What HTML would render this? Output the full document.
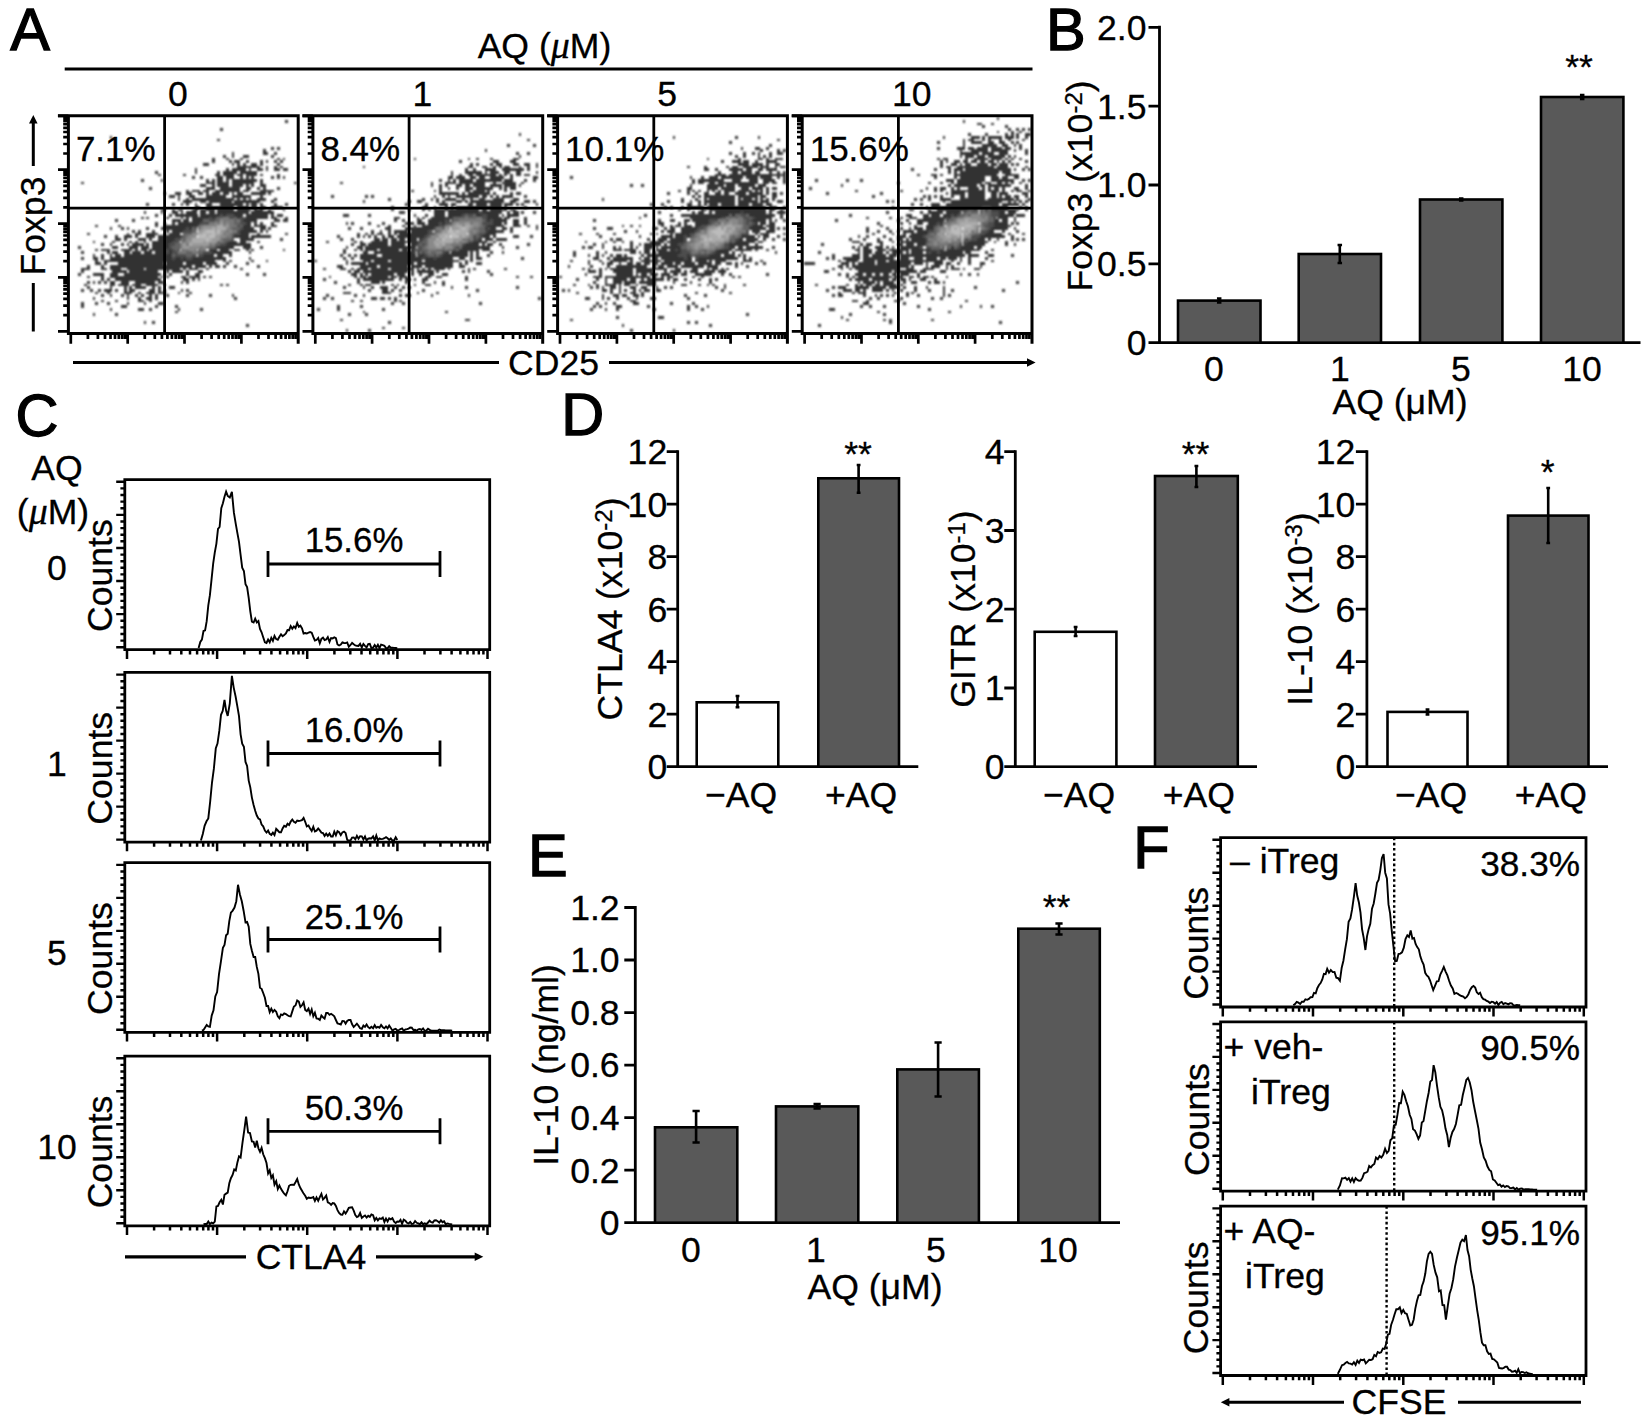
<!DOCTYPE html>
<html><head><meta charset="utf-8"><title>Figure</title>
<style>html,body{margin:0;padding:0;background:#fff}svg{display:block;font-family:"Liberation Sans", sans-serif}
.t{fill:#000;stroke:#000;stroke-width:.3px}
.L{fill:#000;stroke:#000;stroke-width:1.3px;font-size:59.5px;stroke-linejoin:miter}</style></head>
<body>
<svg width="1650" height="1424" viewBox="0 0 1650 1424">
<defs><radialGradient id="core"><stop offset="0" stop-color="#c6c6c6"/><stop offset="0.3" stop-color="#a4a4a4"/><stop offset="0.6" stop-color="#707070" stop-opacity="0.95"/><stop offset="0.85" stop-color="#4a4a4a" stop-opacity="0.7"/><stop offset="1" stop-color="#383838" stop-opacity="0"/></radialGradient><filter id="soft" x="-5%" y="-5%" width="110%" height="110%"><feGaussianBlur stdDeviation="0.9"/></filter></defs>
<rect width="1650" height="1424" fill="#fff"/>
<text class="L" x="10.3" y="50.3">A</text>
<text class="t" x="544.5" y="57.5" font-size="35.6" text-anchor="middle">AQ (<tspan font-family='"Liberation Serif", "DejaVu Serif", serif' font-style="italic" font-size="38">μ</tspan>M)</text>
<line x1="64.7" y1="69" x2="1032.5" y2="69" stroke="#000" stroke-width="3.2"/>
<g filter="url(#soft)" fill="none" shape-rendering="crispEdges" stroke-width="2.68">
<path d="M285.4 121.3h2.8M220.2 129.4h2.8M109.6 137.4h2.8M217.3 140.1h2.8M271.2 148.2h2.8M276.9 148.2h2.8M262.7 150.8h2.8M231.5 153.5h2.8M262.7 153.5h5.7M274.0 153.5h2.8M223.0 156.2h2.8M231.5 156.2h2.8M242.8 156.2h5.7M271.2 156.2h2.8M211.7 158.9h2.8M225.8 158.9h2.8M240.0 158.9h2.8M276.9 158.9h2.8M282.5 158.9h2.8M211.7 161.6h2.8M228.7 161.6h2.8M234.3 161.6h5.7M245.7 161.6h2.8M259.8 161.6h2.8M265.5 161.6h2.8M274.0 161.6h2.8M279.7 161.6h2.8M203.1 164.3h5.7M231.5 164.3h2.8M237.2 164.3h2.8M242.8 164.3h2.8M251.3 164.3h5.7M259.8 164.3h2.8M276.9 164.3h2.8M237.2 166.9h22.7M265.5 166.9h2.8M274.0 166.9h2.8M279.7 166.9h2.8M194.6 169.6h2.8M225.8 169.6h2.8M231.5 169.6h14.2M248.5 169.6h2.8M257.0 169.6h5.7M265.5 169.6h2.8M274.0 169.6h5.7M282.5 169.6h5.7M154.9 172.3h2.8M194.6 172.3h2.8M217.3 172.3h2.8M223.0 172.3h14.2M240.0 172.3h17.0M157.8 175.0h2.8M183.3 175.0h2.8M214.5 175.0h5.7M223.0 175.0h11.3M237.2 175.0h5.7M245.7 175.0h11.3M259.8 175.0h2.8M276.9 175.0h2.8M191.8 177.7h2.8M200.3 177.7h2.8M217.3 177.7h5.7M225.8 177.7h8.5M240.0 177.7h2.8M245.7 177.7h2.8M251.3 177.7h2.8M271.2 177.7h2.8M276.9 177.7h2.8M282.5 177.7h2.8M140.8 180.4h2.8M160.6 180.4h2.8M206.0 180.4h2.8M211.7 180.4h2.8M217.3 180.4h5.7M225.8 180.4h2.8M231.5 180.4h25.5M259.8 180.4h2.8M81.2 183.1h2.8M206.0 183.1h8.5M217.3 183.1h11.3M231.5 183.1h22.7M259.8 183.1h2.8M293.9 183.1h2.8M200.3 185.7h5.7M211.7 185.7h2.8M217.3 185.7h11.3M231.5 185.7h11.3M245.7 185.7h2.8M251.3 185.7h2.8M259.8 185.7h5.7M149.3 188.4h2.8M206.0 188.4h8.5M220.2 188.4h19.8M245.7 188.4h5.7M257.0 188.4h2.8M262.7 188.4h2.8M276.9 188.4h2.8M186.1 191.1h2.8M191.8 191.1h8.5M203.1 191.1h5.7M214.5 191.1h25.5M242.8 191.1h5.7M259.8 191.1h14.2M163.5 193.8h2.8M174.8 193.8h5.7M186.1 193.8h5.7M197.5 193.8h5.7M206.0 193.8h2.8M211.7 193.8h8.5M223.0 193.8h5.7M231.5 193.8h2.8M237.2 193.8h5.7M251.3 193.8h14.2M268.4 193.8h2.8M169.1 196.5h5.7M177.6 196.5h2.8M189.0 196.5h5.7M206.0 196.5h19.8M231.5 196.5h19.8M259.8 196.5h2.8M177.6 199.2h2.8M186.1 199.2h2.8M191.8 199.2h42.5M237.2 199.2h2.8M242.8 199.2h2.8M248.5 199.2h2.8M257.0 199.2h8.5M274.0 199.2h2.8M183.3 201.8h8.5M200.3 201.8h5.7M208.8 201.8h22.7M234.3 201.8h25.5M271.2 201.8h2.8M146.4 204.5h2.8M172.0 204.5h2.8M180.5 204.5h2.8M186.1 204.5h2.8M194.6 204.5h2.8M206.0 204.5h5.7M220.2 204.5h22.7M245.7 204.5h2.8M251.3 204.5h5.7M259.8 204.5h2.8M274.0 204.5h2.8M285.4 204.5h2.8M194.6 207.2h5.7M206.0 207.2h28.4M237.2 207.2h11.3M251.3 207.2h5.7M259.8 207.2h5.7M271.2 207.2h11.3M160.6 209.9h5.7M172.0 209.9h2.8M177.6 209.9h5.7M191.8 209.9h5.7M200.3 209.9h14.2M217.3 209.9h17.0M237.2 209.9h14.2M254.2 209.9h8.5M268.4 209.9h2.8M282.5 209.9h2.8M143.6 212.6h2.8M160.6 212.6h2.8M172.0 212.6h5.7M180.5 212.6h2.8M186.1 212.6h11.3M200.3 212.6h5.7M208.8 212.6h5.7M217.3 212.6h31.2M251.3 212.6h22.7M154.9 215.3h2.8M169.1 215.3h2.8M174.8 215.3h22.7M200.3 215.3h19.8M223.0 215.3h2.8M234.3 215.3h8.5M245.7 215.3h22.7M271.2 215.3h2.8M276.9 215.3h5.7M140.8 217.9h2.8M146.4 217.9h2.8M166.3 217.9h2.8M180.5 217.9h2.8M186.1 217.9h2.8M191.8 217.9h17.0M211.7 217.9h2.8M237.2 217.9h2.8M245.7 217.9h22.7M271.2 217.9h5.7M285.4 217.9h2.8M115.3 220.6h2.8M132.3 220.6h2.8M172.0 220.6h8.5M183.3 220.6h5.7M191.8 220.6h11.3M242.8 220.6h14.2M274.0 220.6h5.7M282.5 220.6h5.7M154.9 223.3h2.8M163.5 223.3h2.8M172.0 223.3h2.8M177.6 223.3h22.7M245.7 223.3h5.7M254.2 223.3h2.8M259.8 223.3h2.8M271.2 223.3h2.8M95.4 226.0h2.8M118.1 226.0h2.8M154.9 226.0h2.8M163.5 226.0h34.0M242.8 226.0h8.5M254.2 226.0h11.3M271.2 226.0h5.7M109.6 228.7h2.8M120.9 228.7h2.8M126.6 228.7h2.8M146.4 228.7h2.8M160.6 228.7h25.5M189.0 228.7h2.8M242.8 228.7h11.3M259.8 228.7h5.7M268.4 228.7h2.8M132.3 231.4h2.8M137.9 231.4h2.8M152.1 231.4h2.8M166.3 231.4h2.8M172.0 231.4h11.3M240.0 231.4h17.0M259.8 231.4h2.8M265.5 231.4h2.8M86.9 234.0h2.8M126.6 234.0h2.8M135.1 234.0h5.7M146.4 234.0h11.3M163.5 234.0h2.8M169.1 234.0h11.3M240.0 234.0h8.5M257.0 234.0h2.8M285.4 234.0h2.8M103.9 236.7h2.8M115.3 236.7h2.8M123.8 236.7h8.5M135.1 236.7h2.8M146.4 236.7h8.5M157.8 236.7h22.7M234.3 236.7h14.2M251.3 236.7h19.8M115.3 239.4h5.7M123.8 239.4h2.8M137.9 239.4h8.5M149.3 239.4h2.8M157.8 239.4h17.0M240.0 239.4h14.2M279.7 239.4h2.8M92.6 242.1h2.8M112.4 242.1h2.8M129.4 242.1h2.8M135.1 242.1h2.8M143.6 242.1h2.8M152.1 242.1h19.8M228.7 242.1h8.5M240.0 242.1h5.7M257.0 242.1h2.8M101.1 244.8h2.8M109.6 244.8h2.8M120.9 244.8h2.8M126.6 244.8h2.8M132.3 244.8h11.3M146.4 244.8h2.8M152.1 244.8h17.0M225.8 244.8h25.5M78.4 247.5h2.8M112.4 247.5h5.7M129.4 247.5h8.5M140.8 247.5h8.5M152.1 247.5h17.0M217.3 247.5h17.0M242.8 247.5h8.5M259.8 247.5h2.8M95.4 250.1h2.8M101.1 250.1h8.5M120.9 250.1h11.3M135.1 250.1h2.8M140.8 250.1h5.7M149.3 250.1h17.0M169.1 250.1h2.8M208.8 250.1h8.5M220.2 250.1h8.5M234.3 250.1h5.7M245.7 250.1h2.8M251.3 250.1h2.8M282.5 250.1h2.8M81.2 252.8h2.8M106.8 252.8h2.8M112.4 252.8h5.7M123.8 252.8h5.7M132.3 252.8h8.5M143.6 252.8h8.5M154.9 252.8h11.3M169.1 252.8h2.8M211.7 252.8h19.8M248.5 252.8h2.8M92.6 255.5h2.8M101.1 255.5h2.8M109.6 255.5h2.8M115.3 255.5h5.7M123.8 255.5h48.2M203.1 255.5h11.3M217.3 255.5h5.7M228.7 255.5h2.8M81.2 258.2h2.8M92.6 258.2h5.7M101.1 258.2h2.8M109.6 258.2h62.4M174.8 258.2h5.7M183.3 258.2h2.8M191.8 258.2h34.0M248.5 258.2h2.8M95.4 260.9h2.8M103.9 260.9h110.6M223.0 260.9h2.8M228.7 260.9h2.8M251.3 260.9h2.8M265.5 260.9h2.8M95.4 263.6h5.7M103.9 263.6h2.8M118.1 263.6h45.4M166.3 263.6h17.0M186.1 263.6h17.0M206.0 263.6h11.3M225.8 263.6h2.8M245.7 263.6h2.8M86.9 266.2h2.8M101.1 266.2h2.8M109.6 266.2h82.2M194.6 266.2h11.3M208.8 266.2h2.8M214.5 266.2h5.7M223.0 266.2h2.8M234.3 266.2h2.8M257.0 266.2h2.8M81.2 268.9h8.5M101.1 268.9h5.7M109.6 268.9h11.3M126.6 268.9h17.0M146.4 268.9h34.0M183.3 268.9h2.8M189.0 268.9h8.5M206.0 268.9h2.8M240.0 268.9h2.8M81.2 271.6h2.8M112.4 271.6h14.2M129.4 271.6h28.4M166.3 271.6h2.8M172.0 271.6h11.3M186.1 271.6h2.8M197.5 271.6h5.7M78.4 274.3h2.8M92.6 274.3h11.3M109.6 274.3h8.5M123.8 274.3h36.9M163.5 274.3h2.8M169.1 274.3h2.8M186.1 274.3h2.8M194.6 274.3h5.7M245.7 274.3h2.8M262.7 274.3h2.8M86.9 277.0h2.8M101.1 277.0h2.8M109.6 277.0h48.2M160.6 277.0h2.8M166.3 277.0h2.8M180.5 277.0h5.7M189.0 277.0h11.3M203.1 277.0h2.8M208.8 277.0h2.8M101.1 279.7h2.8M106.8 279.7h2.8M115.3 279.7h45.4M183.3 279.7h5.7M191.8 279.7h2.8M197.5 279.7h2.8M86.9 282.4h2.8M92.6 282.4h2.8M98.2 282.4h2.8M103.9 282.4h2.8M109.6 282.4h5.7M120.9 282.4h8.5M135.1 282.4h19.8M157.8 282.4h5.7M180.5 282.4h2.8M186.1 282.4h2.8M84.1 285.0h2.8M109.6 285.0h5.7M118.1 285.0h11.3M132.3 285.0h8.5M146.4 285.0h11.3M163.5 285.0h2.8M220.2 285.0h2.8M225.8 285.0h2.8M86.9 287.7h2.8M109.6 287.7h2.8M123.8 287.7h2.8M129.4 287.7h2.8M135.1 287.7h11.3M152.1 287.7h2.8M157.8 287.7h2.8M169.1 287.7h5.7M81.2 290.4h2.8M89.7 290.4h2.8M98.2 290.4h2.8M103.9 290.4h8.5M115.3 290.4h2.8M123.8 290.4h2.8M129.4 290.4h5.7M149.3 290.4h5.7M157.8 290.4h2.8M163.5 290.4h2.8M180.5 290.4h2.8M186.1 290.4h2.8M95.4 293.1h2.8M106.8 293.1h2.8M123.8 293.1h8.5M137.9 293.1h2.8M146.4 293.1h8.5M157.8 293.1h8.5M177.6 293.1h2.8M189.0 293.1h2.8M101.1 295.8h2.8M109.6 295.8h2.8M120.9 295.8h2.8M126.6 295.8h2.8M135.1 295.8h2.8M140.8 295.8h2.8M149.3 295.8h2.8M154.9 295.8h2.8M166.3 295.8h2.8M186.1 295.8h2.8M208.8 295.8h2.8M231.5 295.8h2.8M92.6 298.5h2.8M126.6 298.5h2.8M137.9 298.5h2.8M146.4 298.5h5.7M154.9 298.5h2.8M234.3 298.5h2.8M101.1 301.1h2.8M115.3 301.1h2.8M137.9 301.1h5.7M149.3 301.1h2.8M81.2 303.8h2.8M95.4 303.8h2.8M106.8 303.8h2.8M126.6 303.8h2.8M143.6 303.8h2.8M157.8 303.8h5.7M81.2 306.5h2.8M120.9 306.5h5.7M154.9 306.5h2.8M174.8 306.5h2.8M109.6 309.2h2.8M137.9 309.2h5.7M149.3 309.2h2.8M177.6 309.2h2.8M200.3 309.2h2.8M174.8 311.9h2.8M92.6 314.6h2.8M115.3 314.6h2.8M143.6 322.6h2.8M152.1 322.6h2.8M245.7 325.3h2.8" stroke="#303030"/>
<path d="M220.2 215.3h2.8M225.8 215.3h8.5M208.8 217.9h2.8M214.5 217.9h2.8M228.7 217.9h5.7M240.0 217.9h5.7M208.8 220.6h5.7M240.0 220.6h2.8M200.3 223.3h8.5M240.0 223.3h5.7M237.2 226.0h2.8M186.1 228.7h2.8M194.6 228.7h2.8M240.0 228.7h2.8M183.3 231.4h8.5M237.2 231.4h2.8M234.3 234.0h5.7M180.5 236.7h2.8M231.5 236.7h2.8M174.8 239.4h5.7M231.5 239.4h2.8M172.0 242.1h5.7M225.8 242.1h2.8M169.1 244.8h5.7M220.2 244.8h5.7M169.1 247.5h2.8M214.5 247.5h2.8M166.3 250.1h2.8M172.0 250.1h2.8M177.6 250.1h2.8M166.3 252.8h2.8M172.0 252.8h5.7M203.1 252.8h8.5M174.8 255.5h11.3M191.8 255.5h2.8M197.5 255.5h5.7M172.0 258.2h2.8M180.5 258.2h2.8M186.1 258.2h5.7" stroke="#4d4d4d"/>
<path d="M217.3 217.9h5.7M234.3 217.9h2.8M203.1 220.6h5.7M214.5 220.6h5.7M234.3 220.6h2.8M234.3 223.3h5.7M197.5 226.0h2.8M240.0 226.0h2.8M191.8 228.7h2.8M197.5 228.7h2.8M231.5 228.7h8.5M191.8 231.4h2.8M183.3 234.0h8.5M231.5 234.0h2.8M183.3 236.7h2.8M183.3 239.4h2.8M223.0 239.4h8.5M177.6 242.1h2.8M217.3 242.1h2.8M223.0 242.1h2.8M174.8 244.8h5.7M214.5 244.8h5.7M172.0 247.5h8.5M208.8 247.5h5.7M174.8 250.1h2.8M197.5 250.1h2.8M186.1 252.8h5.7M197.5 252.8h5.7M172.0 255.5h2.8M186.1 255.5h5.7M194.6 255.5h2.8" stroke="#636363"/>
<path d="M223.0 217.9h5.7M223.0 220.6h11.3M237.2 220.6h2.8M208.8 223.3h5.7M217.3 223.3h2.8M223.0 223.3h2.8M228.7 223.3h5.7M200.3 226.0h2.8M228.7 226.0h8.5M228.7 228.7h2.8M194.6 231.4h2.8M225.8 231.4h2.8M231.5 231.4h5.7M223.0 234.0h2.8M228.7 234.0h2.8M186.1 236.7h2.8M225.8 236.7h5.7M180.5 239.4h2.8M220.2 239.4h2.8M180.5 242.1h5.7M220.2 242.1h2.8M186.1 244.8h2.8M208.8 244.8h2.8M200.3 247.5h2.8M206.0 247.5h2.8M180.5 250.1h8.5M194.6 250.1h2.8M200.3 250.1h5.7M177.6 252.8h8.5M191.8 252.8h5.7" stroke="#777777"/>
<path d="M220.2 220.6h2.8M214.5 223.3h2.8M225.8 223.3h2.8M203.1 226.0h14.2M223.0 226.0h2.8M200.3 228.7h2.8M225.8 228.7h2.8M223.0 231.4h2.8M228.7 231.4h2.8M191.8 234.0h5.7M225.8 234.0h2.8M189.0 236.7h5.7M220.2 236.7h5.7M186.1 239.4h5.7M186.1 242.1h2.8M180.5 244.8h2.8M211.7 244.8h2.8M180.5 247.5h2.8M189.0 247.5h11.3M203.1 247.5h2.8M189.0 250.1h5.7" stroke="#898989"/>
<path d="M220.2 223.3h2.8M225.8 226.0h2.8M203.1 228.7h8.5M214.5 228.7h2.8M197.5 231.4h5.7M214.5 231.4h2.8M220.2 231.4h2.8M220.2 234.0h2.8M194.6 236.7h2.8M214.5 236.7h5.7M211.7 239.4h8.5M189.0 242.1h2.8M203.1 242.1h2.8M208.8 242.1h8.5M183.3 244.8h2.8M191.8 244.8h17.0M183.3 247.5h5.7" stroke="#9a9a9a"/>
<path d="M217.3 226.0h5.7M211.7 228.7h2.8M217.3 228.7h8.5M203.1 231.4h2.8M197.5 234.0h5.7M206.0 234.0h5.7M214.5 234.0h5.7M206.0 236.7h2.8M191.8 239.4h14.2M208.8 239.4h2.8M191.8 242.1h11.3M206.0 242.1h2.8M189.0 244.8h2.8" stroke="#ababab"/>
<path d="M206.0 231.4h8.5M217.3 231.4h2.8M203.1 234.0h2.8M211.7 234.0h2.8M197.5 236.7h8.5M208.8 236.7h5.7M206.0 239.4h2.8" stroke="#bcbcbc"/>
</g>
<path d="M57.900000000000006 115.8H298.20000000000005V343.8M68.4 115.8V335.0M66.9 333.5H298.20000000000005" stroke="#000" stroke-width="3" fill="none"/>
<line x1="164.60000000000002" y1="115.8" x2="164.60000000000002" y2="333.5" stroke="#000" stroke-width="2.8"/>
<line x1="68.4" y1="208.2" x2="298.20000000000005" y2="208.2" stroke="#000" stroke-width="2.8"/>
<path d="M70.8 333.5v10.3M87.9 333.5v5.4M97.9 333.5v5.4M105.0 333.5v5.4M110.5 333.5v5.4M115.0 333.5v5.4M118.8 333.5v5.4M122.1 333.5v5.4M125.0 333.5v5.4M127.7 333.5v10.3M144.8 333.5v5.4M154.8 333.5v5.4M161.9 333.5v5.4M167.4 333.5v5.4M171.9 333.5v5.4M175.7 333.5v5.4M179.0 333.5v5.4M181.9 333.5v5.4M184.5 333.5v10.3M201.6 333.5v5.4M211.6 333.5v5.4M218.7 333.5v5.4M224.2 333.5v5.4M228.7 333.5v5.4M232.5 333.5v5.4M235.8 333.5v5.4M238.7 333.5v5.4M241.4 333.5v10.3M258.5 333.5v5.4M268.5 333.5v5.4M275.6 333.5v5.4M281.1 333.5v5.4M285.6 333.5v5.4M289.4 333.5v5.4M292.7 333.5v5.4M295.6 333.5v5.4" stroke="#000" stroke-width="2.7" fill="none"/>
<path d="M68.4 331.3h-10.4M68.4 315.1h-5.2M68.4 305.6h-5.2M68.4 298.9h-5.2M68.4 293.6h-5.2M68.4 289.4h-5.2M68.4 285.8h-5.2M68.4 282.6h-5.2M68.4 279.9h-5.2M68.4 277.4h-10.4M68.4 261.2h-5.2M68.4 251.7h-5.2M68.4 245.0h-5.2M68.4 239.8h-5.2M68.4 235.5h-5.2M68.4 231.9h-5.2M68.4 228.8h-5.2M68.4 226.0h-5.2M68.4 223.6h-10.4M68.4 207.3h-5.2M68.4 197.8h-5.2M68.4 191.1h-5.2M68.4 185.9h-5.2M68.4 181.6h-5.2M68.4 178.0h-5.2M68.4 174.9h-5.2M68.4 172.1h-5.2M68.4 169.7h-10.4M68.4 153.5h-5.2M68.4 144.0h-5.2M68.4 137.2h-5.2M68.4 132.0h-5.2M68.4 127.8h-5.2M68.4 124.1h-5.2M68.4 121.0h-5.2M68.4 118.3h-5.2M68.4 115.8h-10.4" stroke="#000" stroke-width="2.7" fill="none"/>
<text class="t" x="177.9" y="106" font-size="35.6" text-anchor="middle">0</text>
<text class="t" x="75.9" y="161.3" font-size="35">7.1%</text>
<g filter="url(#soft)" fill="none" shape-rendering="crispEdges" stroke-width="2.68">
<path d="M518.5 134.7h2.8M527.0 140.1h2.8M507.2 145.5h2.8M532.7 145.5h2.8M484.5 150.8h2.8M515.7 153.5h2.8M527.0 153.5h2.8M518.5 156.2h2.8M413.6 158.9h2.8M467.5 158.9h2.8M476.0 158.9h2.8M490.2 158.9h2.8M512.8 158.9h5.7M459.0 161.6h2.8M493.0 161.6h5.7M510.0 161.6h5.7M470.3 164.3h2.8M476.0 164.3h2.8M490.2 164.3h2.8M495.8 164.3h5.7M512.8 164.3h5.7M524.2 164.3h5.7M535.5 164.3h2.8M362.6 166.9h2.8M467.5 166.9h5.7M481.7 166.9h5.7M493.0 166.9h2.8M498.7 166.9h2.8M504.3 166.9h5.7M518.5 166.9h2.8M527.0 166.9h2.8M535.5 166.9h2.8M464.7 169.6h2.8M473.2 169.6h2.8M484.5 169.6h11.3M501.5 169.6h22.7M527.0 169.6h2.8M450.5 172.3h2.8M464.7 172.3h17.0M484.5 172.3h2.8M490.2 172.3h8.5M504.3 172.3h5.7M515.7 172.3h5.7M535.5 172.3h2.8M450.5 175.0h2.8M459.0 175.0h2.8M467.5 175.0h5.7M476.0 175.0h19.8M498.7 175.0h2.8M504.3 175.0h2.8M510.0 175.0h2.8M515.7 175.0h5.7M524.2 175.0h5.7M447.6 177.7h5.7M456.1 177.7h8.5M470.3 177.7h5.7M478.8 177.7h5.7M490.2 177.7h14.2M510.0 177.7h2.8M532.7 177.7h5.7M439.1 180.4h2.8M447.6 180.4h2.8M453.3 180.4h2.8M459.0 180.4h14.2M476.0 180.4h25.5M504.3 180.4h8.5M524.2 180.4h2.8M532.7 180.4h2.8M339.9 183.1h2.8M430.6 183.1h2.8M444.8 183.1h11.3M459.0 183.1h25.5M493.0 183.1h2.8M501.5 183.1h14.2M521.4 183.1h2.8M430.6 185.7h2.8M439.1 185.7h2.8M444.8 185.7h2.8M456.1 185.7h5.7M464.7 185.7h5.7M473.2 185.7h11.3M490.2 185.7h11.3M504.3 185.7h11.3M518.5 185.7h2.8M439.1 188.4h2.8M447.6 188.4h2.8M456.1 188.4h2.8M464.7 188.4h8.5M476.0 188.4h17.0M498.7 188.4h2.8M504.3 188.4h2.8M510.0 188.4h5.7M410.8 191.1h2.8M433.5 191.1h2.8M439.1 191.1h2.8M464.7 191.1h5.7M473.2 191.1h11.3M487.3 191.1h2.8M504.3 191.1h2.8M439.1 193.8h19.8M461.8 193.8h2.8M467.5 193.8h22.7M493.0 193.8h2.8M510.0 193.8h2.8M515.7 193.8h5.7M331.4 196.5h2.8M365.4 196.5h2.8M371.1 196.5h2.8M433.5 196.5h2.8M442.0 196.5h2.8M447.6 196.5h2.8M456.1 196.5h22.7M481.7 196.5h5.7M490.2 196.5h2.8M495.8 196.5h2.8M501.5 196.5h11.3M524.2 196.5h2.8M388.1 199.2h2.8M422.1 199.2h2.8M430.6 199.2h2.8M436.3 199.2h2.8M444.8 199.2h11.3M461.8 199.2h2.8M470.3 199.2h2.8M478.8 199.2h5.7M493.0 199.2h11.3M512.8 199.2h5.7M362.6 201.8h2.8M408.0 201.8h2.8M416.5 201.8h5.7M436.3 201.8h2.8M442.0 201.8h2.8M456.1 201.8h5.7M464.7 201.8h2.8M470.3 201.8h34.0M510.0 201.8h5.7M524.2 201.8h5.7M532.7 201.8h2.8M405.1 204.5h2.8M425.0 204.5h2.8M439.1 204.5h8.5M450.5 204.5h5.7M467.5 204.5h5.7M476.0 204.5h11.3M490.2 204.5h11.3M504.3 204.5h8.5M515.7 204.5h2.8M521.4 204.5h2.8M535.5 204.5h2.8M390.9 207.2h2.8M422.1 207.2h5.7M433.5 207.2h2.8M444.8 207.2h2.8M450.5 207.2h2.8M456.1 207.2h45.4M504.3 207.2h2.8M524.2 207.2h2.8M390.9 209.9h2.8M408.0 209.9h2.8M422.1 209.9h2.8M427.8 209.9h2.8M433.5 209.9h45.4M481.7 209.9h5.7M490.2 209.9h17.0M510.0 209.9h5.7M399.4 212.6h5.7M433.5 212.6h11.3M447.6 212.6h31.2M481.7 212.6h19.8M507.2 212.6h2.8M512.8 212.6h5.7M521.4 212.6h2.8M532.7 212.6h2.8M342.8 215.3h5.7M368.3 215.3h2.8M413.6 215.3h2.8M425.0 215.3h2.8M433.5 215.3h11.3M447.6 215.3h14.2M476.0 215.3h5.7M487.3 215.3h11.3M501.5 215.3h2.8M507.2 215.3h11.3M393.8 217.9h5.7M416.5 217.9h2.8M422.1 217.9h2.8M430.6 217.9h22.7M487.3 217.9h14.2M504.3 217.9h5.7M524.2 217.9h2.8M393.8 220.6h2.8M402.3 220.6h2.8M416.5 220.6h5.7M427.8 220.6h17.0M447.6 220.6h2.8M487.3 220.6h2.8M493.0 220.6h14.2M512.8 220.6h5.7M524.2 220.6h2.8M345.6 223.3h2.8M351.3 223.3h2.8M368.3 223.3h2.8M382.4 223.3h2.8M405.1 223.3h8.5M416.5 223.3h8.5M427.8 223.3h11.3M442.0 223.3h2.8M493.0 223.3h8.5M504.3 223.3h2.8M512.8 223.3h5.7M524.2 223.3h2.8M376.8 226.0h2.8M388.1 226.0h2.8M402.3 226.0h2.8M413.6 226.0h2.8M422.1 226.0h17.0M487.3 226.0h17.0M512.8 226.0h8.5M527.0 226.0h2.8M535.5 226.0h2.8M348.4 228.7h2.8M359.8 228.7h2.8M385.3 228.7h5.7M405.1 228.7h28.4M484.5 228.7h2.8M490.2 228.7h5.7M501.5 228.7h5.7M510.0 228.7h2.8M535.5 228.7h2.8M371.1 231.4h2.8M379.6 231.4h2.8M388.1 231.4h2.8M393.8 231.4h14.2M410.8 231.4h17.0M487.3 231.4h17.0M510.0 231.4h2.8M356.9 234.0h2.8M365.4 234.0h2.8M371.1 234.0h2.8M376.8 234.0h5.7M388.1 234.0h2.8M393.8 234.0h2.8M399.4 234.0h28.4M484.5 234.0h11.3M337.1 236.7h2.8M356.9 236.7h2.8M362.6 236.7h2.8M368.3 236.7h2.8M373.9 236.7h2.8M382.4 236.7h2.8M388.1 236.7h5.7M396.6 236.7h28.4M481.7 236.7h8.5M493.0 236.7h2.8M512.8 236.7h5.7M529.9 236.7h2.8M339.9 239.4h2.8M351.3 239.4h2.8M373.9 239.4h5.7M382.4 239.4h5.7M390.9 239.4h5.7M399.4 239.4h5.7M408.0 239.4h8.5M419.3 239.4h2.8M478.8 239.4h2.8M484.5 239.4h8.5M495.8 239.4h11.3M325.7 242.1h2.8M354.1 242.1h2.8M359.8 242.1h2.8M371.1 242.1h17.0M390.9 242.1h28.4M473.2 242.1h14.2M493.0 242.1h2.8M351.3 244.8h2.8M359.8 244.8h5.7M368.3 244.8h19.8M390.9 244.8h14.2M410.8 244.8h5.7M464.7 244.8h14.2M481.7 244.8h2.8M487.3 244.8h5.7M498.7 244.8h2.8M527.0 244.8h2.8M345.6 247.5h2.8M356.9 247.5h5.7M365.4 247.5h51.0M461.8 247.5h28.4M501.5 247.5h2.8M515.7 247.5h2.8M342.8 250.1h2.8M354.1 250.1h2.8M359.8 250.1h2.8M365.4 250.1h11.3M379.6 250.1h19.8M402.3 250.1h5.7M410.8 250.1h2.8M459.0 250.1h19.8M481.7 250.1h8.5M342.8 252.8h2.8M362.6 252.8h5.7M373.9 252.8h39.7M416.5 252.8h2.8M444.8 252.8h2.8M450.5 252.8h17.0M470.3 252.8h2.8M476.0 252.8h2.8M490.2 252.8h2.8M501.5 252.8h2.8M339.9 255.5h2.8M348.4 255.5h2.8M354.1 255.5h2.8M359.8 255.5h17.0M382.4 255.5h34.0M419.3 255.5h5.7M442.0 255.5h25.5M470.3 255.5h2.8M476.0 255.5h2.8M487.3 255.5h2.8M342.8 258.2h2.8M351.3 258.2h2.8M359.8 258.2h62.4M425.0 258.2h8.5M436.3 258.2h17.0M459.0 258.2h5.7M470.3 258.2h2.8M476.0 258.2h5.7M521.4 258.2h2.8M314.4 260.9h2.8M345.6 260.9h2.8M362.6 260.9h8.5M373.9 260.9h14.2M390.9 260.9h31.2M425.0 260.9h34.0M464.7 260.9h2.8M470.3 260.9h2.8M345.6 263.6h2.8M351.3 263.6h14.2M368.3 263.6h45.4M416.5 263.6h36.9M459.0 263.6h2.8M464.7 263.6h2.8M476.0 263.6h5.7M337.1 266.2h5.7M359.8 266.2h17.0M379.6 266.2h28.4M410.8 266.2h11.3M425.0 266.2h28.4M459.0 266.2h5.7M322.9 268.9h2.8M339.9 268.9h5.7M351.3 268.9h2.8M356.9 268.9h11.3M371.1 268.9h17.0M390.9 268.9h22.7M416.5 268.9h2.8M422.1 268.9h2.8M427.8 268.9h2.8M433.5 268.9h11.3M447.6 268.9h2.8M467.5 268.9h2.8M473.2 268.9h2.8M504.3 268.9h2.8M348.4 271.6h2.8M354.1 271.6h5.7M362.6 271.6h45.4M410.8 271.6h2.8M416.5 271.6h17.0M436.3 271.6h2.8M461.8 271.6h2.8M467.5 271.6h2.8M487.3 271.6h2.8M351.3 274.3h5.7M359.8 274.3h2.8M365.4 274.3h2.8M371.1 274.3h22.7M396.6 274.3h8.5M410.8 274.3h2.8M419.3 274.3h2.8M427.8 274.3h5.7M442.0 274.3h5.7M490.2 274.3h2.8M328.6 277.0h2.8M354.1 277.0h2.8M359.8 277.0h5.7M368.3 277.0h19.8M390.9 277.0h5.7M399.4 277.0h8.5M425.0 277.0h5.7M436.3 277.0h5.7M464.7 277.0h2.8M515.7 277.0h2.8M529.9 277.0h2.8M322.9 279.7h2.8M356.9 279.7h2.8M362.6 279.7h31.2M399.4 279.7h2.8M405.1 279.7h5.7M413.6 279.7h2.8M422.1 279.7h5.7M464.7 279.7h2.8M334.2 282.4h2.8M356.9 282.4h2.8M371.1 282.4h8.5M382.4 282.4h2.8M405.1 282.4h2.8M422.1 282.4h2.8M433.5 282.4h2.8M442.0 282.4h2.8M348.4 285.0h2.8M359.8 285.0h2.8M365.4 285.0h5.7M390.9 285.0h2.8M396.6 285.0h2.8M413.6 285.0h2.8M425.0 285.0h5.7M442.0 285.0h2.8M342.8 287.7h2.8M362.6 287.7h2.8M371.1 287.7h2.8M379.6 287.7h8.5M393.8 287.7h2.8M402.3 287.7h2.8M408.0 287.7h2.8M450.5 287.7h2.8M464.7 287.7h2.8M515.7 287.7h2.8M368.3 290.4h2.8M382.4 290.4h5.7M390.9 290.4h2.8M399.4 290.4h2.8M422.1 290.4h2.8M476.0 290.4h2.8M342.8 293.1h8.5M382.4 293.1h8.5M416.5 293.1h2.8M436.3 293.1h2.8M325.7 295.8h2.8M354.1 295.8h2.8M362.6 295.8h2.8M399.4 295.8h2.8M405.1 295.8h5.7M430.6 295.8h2.8M467.5 295.8h2.8M322.9 298.5h2.8M331.4 298.5h2.8M371.1 298.5h5.7M379.6 298.5h5.7M388.1 298.5h2.8M393.8 298.5h2.8M538.4 298.5h2.8M351.3 301.1h2.8M359.8 301.1h2.8M393.8 301.1h2.8M399.4 301.1h2.8M390.9 303.8h2.8M402.3 303.8h2.8M478.8 303.8h2.8M337.1 306.5h2.8M359.8 306.5h2.8M317.2 309.2h2.8M337.1 309.2h2.8M382.4 309.2h2.8M362.6 311.9h2.8M444.8 311.9h2.8M348.4 314.6h2.8M365.4 314.6h2.8M339.9 319.9h2.8M464.7 319.9h5.7M388.1 322.6h2.8M382.4 328.0h2.8M402.3 328.0h2.8M345.6 330.7h2.8M368.3 330.7h2.8" stroke="#303030"/>
<path d="M478.8 212.6h2.8M461.8 215.3h2.8M467.5 215.3h5.7M481.7 215.3h5.7M481.7 217.9h5.7M444.8 220.6h2.8M450.5 220.6h2.8M484.5 220.6h2.8M490.2 220.6h2.8M439.1 223.3h2.8M444.8 223.3h5.7M481.7 223.3h11.3M439.1 226.0h5.7M484.5 226.0h2.8M433.5 228.7h2.8M487.3 228.7h2.8M427.8 231.4h2.8M484.5 231.4h2.8M427.8 234.0h5.7M478.8 234.0h5.7M425.0 236.7h2.8M473.2 236.7h2.8M478.8 236.7h2.8M422.1 239.4h2.8M473.2 239.4h5.7M419.3 242.1h2.8M467.5 242.1h5.7M416.5 244.8h2.8M422.1 244.8h2.8M461.8 244.8h2.8M419.3 247.5h2.8M456.1 247.5h2.8M413.6 250.1h8.5M453.3 250.1h2.8M413.6 252.8h2.8M422.1 252.8h2.8M442.0 252.8h2.8M447.6 252.8h2.8M416.5 255.5h2.8M425.0 255.5h2.8M433.5 255.5h2.8M439.1 255.5h2.8M422.1 258.2h2.8M433.5 258.2h2.8" stroke="#4d4d4d"/>
<path d="M464.7 215.3h2.8M473.2 215.3h2.8M453.3 217.9h11.3M467.5 217.9h8.5M453.3 220.6h5.7M481.7 220.6h2.8M450.5 223.3h2.8M481.7 226.0h2.8M442.0 228.7h2.8M478.8 228.7h5.7M430.6 231.4h2.8M436.3 231.4h2.8M478.8 231.4h5.7M433.5 234.0h2.8M476.0 234.0h2.8M427.8 236.7h2.8M476.0 236.7h2.8M425.0 239.4h2.8M467.5 239.4h2.8M422.1 242.1h5.7M419.3 244.8h2.8M425.0 244.8h2.8M416.5 247.5h2.8M422.1 247.5h2.8M453.3 247.5h2.8M459.0 247.5h2.8M422.1 250.1h5.7M436.3 250.1h8.5M447.6 250.1h5.7M456.1 250.1h2.8M419.3 252.8h2.8M425.0 252.8h2.8M430.6 252.8h5.7M427.8 255.5h5.7M436.3 255.5h2.8" stroke="#636363"/>
<path d="M464.7 217.9h2.8M476.0 217.9h5.7M459.0 220.6h22.7M470.3 223.3h2.8M478.8 223.3h2.8M444.8 226.0h2.8M478.8 226.0h2.8M436.3 228.7h5.7M473.2 228.7h5.7M433.5 231.4h2.8M439.1 231.4h2.8M470.3 231.4h2.8M476.0 231.4h2.8M470.3 234.0h5.7M470.3 236.7h2.8M461.8 239.4h5.7M470.3 239.4h2.8M459.0 242.1h2.8M464.7 242.1h2.8M450.5 244.8h11.3M425.0 247.5h2.8M442.0 247.5h2.8M427.8 250.1h8.5M444.8 250.1h2.8M427.8 252.8h2.8M436.3 252.8h5.7" stroke="#777777"/>
<path d="M453.3 223.3h2.8M459.0 223.3h5.7M473.2 223.3h5.7M447.6 226.0h5.7M461.8 226.0h2.8M473.2 226.0h5.7M447.6 228.7h2.8M470.3 228.7h2.8M467.5 231.4h2.8M473.2 231.4h2.8M436.3 234.0h2.8M430.6 236.7h8.5M467.5 236.7h2.8M427.8 239.4h8.5M427.8 242.1h5.7M453.3 242.1h2.8M461.8 242.1h2.8M427.8 244.8h5.7M444.8 244.8h5.7M427.8 247.5h8.5M444.8 247.5h8.5" stroke="#898989"/>
<path d="M456.1 223.3h2.8M464.7 223.3h5.7M453.3 226.0h2.8M470.3 226.0h2.8M444.8 228.7h2.8M450.5 228.7h8.5M467.5 228.7h2.8M442.0 231.4h5.7M439.1 234.0h2.8M467.5 234.0h2.8M459.0 236.7h2.8M464.7 236.7h2.8M439.1 239.4h2.8M453.3 239.4h8.5M436.3 242.1h2.8M456.1 242.1h2.8M433.5 244.8h2.8M439.1 244.8h2.8M436.3 247.5h5.7" stroke="#9a9a9a"/>
<path d="M456.1 226.0h5.7M464.7 226.0h5.7M459.0 228.7h2.8M464.7 228.7h2.8M453.3 231.4h2.8M459.0 231.4h8.5M442.0 234.0h8.5M456.1 234.0h11.3M439.1 236.7h5.7M447.6 236.7h2.8M461.8 236.7h2.8M436.3 239.4h2.8M444.8 239.4h8.5M433.5 242.1h2.8M439.1 242.1h14.2M436.3 244.8h2.8M442.0 244.8h2.8" stroke="#ababab"/>
<path d="M461.8 228.7h2.8M447.6 231.4h5.7M456.1 231.4h2.8M450.5 234.0h5.7M444.8 236.7h2.8M450.5 236.7h8.5M442.0 239.4h2.8" stroke="#bcbcbc"/>
</g>
<path d="M302.4 115.8H542.7V343.8M312.9 115.8V335.0M311.4 333.5H542.7" stroke="#000" stroke-width="3" fill="none"/>
<line x1="409.09999999999997" y1="115.8" x2="409.09999999999997" y2="333.5" stroke="#000" stroke-width="2.8"/>
<line x1="312.9" y1="208.2" x2="542.7" y2="208.2" stroke="#000" stroke-width="2.8"/>
<path d="M315.3 333.5v10.3M332.4 333.5v5.4M342.4 333.5v5.4M349.5 333.5v5.4M355.0 333.5v5.4M359.5 333.5v5.4M363.3 333.5v5.4M366.6 333.5v5.4M369.5 333.5v5.4M372.1 333.5v10.3M389.3 333.5v5.4M399.3 333.5v5.4M406.4 333.5v5.4M411.9 333.5v5.4M416.4 333.5v5.4M420.2 333.5v5.4M423.5 333.5v5.4M426.4 333.5v5.4M429.0 333.5v10.3M446.1 333.5v5.4M456.1 333.5v5.4M463.2 333.5v5.4M468.7 333.5v5.4M473.2 333.5v5.4M477.0 333.5v5.4M480.3 333.5v5.4M483.2 333.5v5.4M485.9 333.5v10.3M503.0 333.5v5.4M513.0 333.5v5.4M520.1 333.5v5.4M525.6 333.5v5.4M530.1 333.5v5.4M533.9 333.5v5.4M537.2 333.5v5.4M540.1 333.5v5.4" stroke="#000" stroke-width="2.7" fill="none"/>
<path d="M312.9 331.3h-10.4M312.9 315.1h-5.2M312.9 305.6h-5.2M312.9 298.9h-5.2M312.9 293.6h-5.2M312.9 289.4h-5.2M312.9 285.8h-5.2M312.9 282.6h-5.2M312.9 279.9h-5.2M312.9 277.4h-10.4M312.9 261.2h-5.2M312.9 251.7h-5.2M312.9 245.0h-5.2M312.9 239.8h-5.2M312.9 235.5h-5.2M312.9 231.9h-5.2M312.9 228.8h-5.2M312.9 226.0h-5.2M312.9 223.6h-10.4M312.9 207.3h-5.2M312.9 197.8h-5.2M312.9 191.1h-5.2M312.9 185.9h-5.2M312.9 181.6h-5.2M312.9 178.0h-5.2M312.9 174.9h-5.2M312.9 172.1h-5.2M312.9 169.7h-10.4M312.9 153.5h-5.2M312.9 144.0h-5.2M312.9 137.2h-5.2M312.9 132.0h-5.2M312.9 127.8h-5.2M312.9 124.1h-5.2M312.9 121.0h-5.2M312.9 118.3h-5.2M312.9 115.8h-10.4" stroke="#000" stroke-width="2.7" fill="none"/>
<text class="t" x="422.4" y="106" font-size="35.6" text-anchor="middle">1</text>
<text class="t" x="320.4" y="161.3" font-size="35">8.4%</text>
<g filter="url(#soft)" fill="none" shape-rendering="crispEdges" stroke-width="2.68">
<path d="M672.5 137.4h2.8M734.9 137.4h2.8M757.5 137.4h2.8M777.4 140.1h2.8M729.2 142.8h2.8M768.9 145.5h2.8M740.5 148.2h2.8M754.7 148.2h5.7M766.1 148.2h2.8M760.4 150.8h2.8M777.4 150.8h2.8M783.1 150.8h2.8M729.2 153.5h2.8M743.4 153.5h2.8M751.9 153.5h2.8M757.5 153.5h2.8M768.9 153.5h2.8M777.4 153.5h5.7M734.9 156.2h2.8M743.4 156.2h2.8M757.5 156.2h2.8M763.2 156.2h2.8M768.9 156.2h2.8M706.5 158.9h2.8M737.7 158.9h2.8M757.5 158.9h5.7M766.1 158.9h2.8M774.6 158.9h8.5M720.7 161.6h2.8M732.0 161.6h8.5M743.4 161.6h5.7M754.7 161.6h2.8M766.1 161.6h11.3M737.7 164.3h11.3M751.9 164.3h11.3M766.1 164.3h2.8M774.6 164.3h5.7M686.7 166.9h2.8M703.7 166.9h2.8M726.4 166.9h2.8M732.0 166.9h5.7M743.4 166.9h14.2M760.4 166.9h8.5M774.6 166.9h2.8M780.2 166.9h5.7M703.7 169.6h5.7M715.0 169.6h2.8M729.2 169.6h14.2M746.2 169.6h5.7M757.5 169.6h5.7M766.1 169.6h11.3M717.9 172.3h2.8M732.0 172.3h5.7M740.5 172.3h11.3M754.7 172.3h5.7M768.9 172.3h2.8M777.4 172.3h2.8M783.1 172.3h2.8M715.0 175.0h11.3M729.2 175.0h56.7M570.4 177.7h2.8M689.5 177.7h2.8M700.9 177.7h2.8M709.4 177.7h8.5M720.7 177.7h22.7M746.2 177.7h11.3M760.4 177.7h11.3M777.4 177.7h2.8M783.1 177.7h2.8M692.3 180.4h2.8M698.0 180.4h25.5M732.0 180.4h8.5M749.0 180.4h8.5M763.2 180.4h11.3M783.1 180.4h2.8M692.3 183.1h2.8M698.0 183.1h5.7M709.4 183.1h5.7M717.9 183.1h39.7M763.2 183.1h5.7M771.7 183.1h5.7M783.1 183.1h2.8M630.0 185.7h2.8M641.3 185.7h2.8M689.5 185.7h2.8M706.5 185.7h17.0M726.4 185.7h8.5M737.7 185.7h17.0M757.5 185.7h8.5M686.7 188.4h5.7M706.5 188.4h11.3M720.7 188.4h14.2M740.5 188.4h8.5M751.9 188.4h11.3M766.1 188.4h2.8M771.7 188.4h5.7M678.2 191.1h2.8M686.7 191.1h2.8M692.3 191.1h2.8M698.0 191.1h2.8M706.5 191.1h2.8M712.2 191.1h2.8M717.9 191.1h2.8M723.5 191.1h11.3M737.7 191.1h14.2M754.7 191.1h2.8M760.4 191.1h2.8M766.1 191.1h2.8M666.8 193.8h2.8M686.7 193.8h2.8M695.2 193.8h2.8M703.7 193.8h5.7M715.0 193.8h5.7M723.5 193.8h5.7M734.9 193.8h11.3M749.0 193.8h14.2M766.1 193.8h2.8M771.7 193.8h5.7M780.2 193.8h2.8M692.3 196.5h2.8M698.0 196.5h2.8M703.7 196.5h31.2M737.7 196.5h19.8M760.4 196.5h5.7M771.7 196.5h5.7M601.6 199.2h2.8M681.0 199.2h2.8M695.2 199.2h2.8M703.7 199.2h2.8M709.4 199.2h25.5M737.7 199.2h2.8M743.4 199.2h8.5M754.7 199.2h2.8M760.4 199.2h2.8M766.1 199.2h2.8M771.7 199.2h2.8M666.8 201.8h2.8M681.0 201.8h2.8M689.5 201.8h2.8M698.0 201.8h2.8M703.7 201.8h31.2M737.7 201.8h19.8M760.4 201.8h8.5M777.4 201.8h5.7M649.8 204.5h2.8M661.2 204.5h2.8M686.7 204.5h5.7M698.0 204.5h2.8M703.7 204.5h2.8M709.4 204.5h8.5M720.7 204.5h14.2M737.7 204.5h11.3M751.9 204.5h11.3M766.1 204.5h5.7M664.0 207.2h2.8M669.7 207.2h2.8M681.0 207.2h2.8M686.7 207.2h17.0M706.5 207.2h59.5M768.9 207.2h8.5M783.1 207.2h2.8M678.2 209.9h2.8M686.7 209.9h2.8M700.9 209.9h5.7M709.4 209.9h56.7M768.9 209.9h5.7M780.2 209.9h2.8M658.3 212.6h2.8M692.3 212.6h2.8M698.0 212.6h5.7M709.4 212.6h2.8M715.0 212.6h25.5M743.4 212.6h22.7M768.9 212.6h2.8M777.4 212.6h8.5M644.1 215.3h2.8M669.7 215.3h2.8M681.0 215.3h48.2M732.0 215.3h2.8M749.0 215.3h25.5M780.2 215.3h2.8M638.5 217.9h2.8M689.5 217.9h31.2M754.7 217.9h17.0M780.2 217.9h2.8M593.1 220.6h2.8M658.3 220.6h2.8M669.7 220.6h5.7M683.8 220.6h5.7M692.3 220.6h17.0M751.9 220.6h14.2M768.9 220.6h2.8M774.6 220.6h2.8M783.1 220.6h2.8M658.3 223.3h5.7M678.2 223.3h2.8M683.8 223.3h2.8M695.2 223.3h14.2M754.7 223.3h2.8M760.4 223.3h5.7M768.9 223.3h5.7M621.5 226.0h2.8M630.0 226.0h2.8M638.5 226.0h2.8M661.2 226.0h2.8M669.7 226.0h2.8M675.3 226.0h5.7M683.8 226.0h8.5M695.2 226.0h5.7M751.9 226.0h11.3M766.1 226.0h8.5M593.1 228.7h2.8M607.3 228.7h5.7M652.7 228.7h5.7M664.0 228.7h2.8M669.7 228.7h5.7M681.0 228.7h17.0M749.0 228.7h17.0M768.9 228.7h5.7M777.4 228.7h2.8M783.1 228.7h2.8M624.3 231.4h2.8M635.6 231.4h2.8M661.2 231.4h2.8M666.8 231.4h8.5M681.0 231.4h14.2M751.9 231.4h8.5M766.1 231.4h8.5M578.9 234.0h2.8M596.0 234.0h2.8M613.0 234.0h2.8M649.8 234.0h2.8M655.5 234.0h2.8M669.7 234.0h2.8M675.3 234.0h14.2M754.7 234.0h2.8M760.4 234.0h8.5M783.1 234.0h2.8M598.8 236.7h2.8M638.5 236.7h2.8M661.2 236.7h11.3M675.3 236.7h8.5M686.7 236.7h2.8M740.5 236.7h14.2M757.5 236.7h2.8M763.2 236.7h5.7M777.4 236.7h2.8M610.1 239.4h2.8M615.8 239.4h5.7M647.0 239.4h2.8M658.3 239.4h8.5M669.7 239.4h14.2M737.7 239.4h5.7M746.2 239.4h11.3M763.2 239.4h2.8M771.7 239.4h2.8M783.1 239.4h2.8M584.6 242.1h2.8M604.5 242.1h2.8M613.0 242.1h2.8M621.5 242.1h2.8M630.0 242.1h2.8M649.8 242.1h14.2M666.8 242.1h17.0M734.9 242.1h19.8M757.5 242.1h5.7M593.1 244.8h2.8M601.6 244.8h2.8M630.0 244.8h2.8M638.5 244.8h2.8M644.1 244.8h17.0M664.0 244.8h2.8M669.7 244.8h8.5M729.2 244.8h19.8M754.7 244.8h2.8M581.8 247.5h2.8M587.5 247.5h5.7M601.6 247.5h2.8M613.0 247.5h2.8M618.6 247.5h2.8M630.0 247.5h2.8M635.6 247.5h2.8M644.1 247.5h8.5M655.5 247.5h2.8M661.2 247.5h19.8M729.2 247.5h5.7M737.7 247.5h5.7M746.2 247.5h17.0M771.7 247.5h2.8M613.0 250.1h8.5M624.3 250.1h11.3M644.1 250.1h5.7M655.5 250.1h11.3M669.7 250.1h5.7M678.2 250.1h2.8M717.9 250.1h14.2M734.9 250.1h17.0M754.7 250.1h2.8M766.1 250.1h2.8M573.3 252.8h2.8M596.0 252.8h2.8M604.5 252.8h2.8M630.0 252.8h5.7M638.5 252.8h2.8M644.1 252.8h5.7M652.7 252.8h2.8M658.3 252.8h22.7M715.0 252.8h14.2M732.0 252.8h2.8M740.5 252.8h2.8M774.6 252.8h2.8M573.3 255.5h2.8M587.5 255.5h2.8M596.0 255.5h2.8M601.6 255.5h2.8M610.1 255.5h2.8M615.8 255.5h5.7M624.3 255.5h2.8M641.3 255.5h2.8M647.0 255.5h31.2M686.7 255.5h2.8M709.4 255.5h11.3M723.5 255.5h11.3M737.7 255.5h2.8M743.4 255.5h2.8M593.1 258.2h5.7M607.3 258.2h2.8M613.0 258.2h19.8M638.5 258.2h2.8M644.1 258.2h5.7M652.7 258.2h5.7M661.2 258.2h22.7M686.7 258.2h5.7M698.0 258.2h39.7M743.4 258.2h2.8M749.0 258.2h2.8M570.4 260.9h2.8M587.5 260.9h2.8M598.8 260.9h2.8M610.1 260.9h17.0M630.0 260.9h2.8M641.3 260.9h19.8M664.0 260.9h28.4M695.2 260.9h11.3M709.4 260.9h2.8M715.0 260.9h11.3M743.4 260.9h8.5M760.4 260.9h2.8M587.5 263.6h2.8M601.6 263.6h2.8M607.3 263.6h5.7M618.6 263.6h2.8M627.1 263.6h5.7M635.6 263.6h5.7M644.1 263.6h5.7M652.7 263.6h5.7M661.2 263.6h11.3M675.3 263.6h5.7M683.8 263.6h11.3M698.0 263.6h14.2M715.0 263.6h5.7M726.4 263.6h5.7M734.9 263.6h2.8M740.5 263.6h2.8M754.7 263.6h2.8M763.2 263.6h2.8M567.6 266.2h2.8M590.3 266.2h2.8M607.3 266.2h2.8M615.8 266.2h31.2M652.7 266.2h2.8M658.3 266.2h5.7M666.8 266.2h11.3M681.0 266.2h22.7M706.5 266.2h11.3M734.9 266.2h2.8M746.2 266.2h2.8M581.8 268.9h2.8M587.5 268.9h2.8M598.8 268.9h2.8M604.5 268.9h2.8M610.1 268.9h22.7M635.6 268.9h31.2M675.3 268.9h5.7M692.3 268.9h5.7M706.5 268.9h2.8M712.2 268.9h5.7M720.7 268.9h2.8M726.4 268.9h2.8M587.5 271.6h8.5M598.8 271.6h2.8M613.0 271.6h19.8M635.6 271.6h17.0M664.0 271.6h2.8M669.7 271.6h11.3M683.8 271.6h2.8M689.5 271.6h8.5M703.7 271.6h11.3M717.9 271.6h8.5M584.6 274.3h2.8M598.8 274.3h2.8M615.8 274.3h17.0M635.6 274.3h2.8M641.3 274.3h5.7M649.8 274.3h8.5M661.2 274.3h8.5M672.5 274.3h5.7M681.0 274.3h5.7M695.2 274.3h17.0M720.7 274.3h2.8M729.2 274.3h2.8M766.1 274.3h2.8M559.1 277.0h2.8M593.1 277.0h8.5M604.5 277.0h45.4M652.7 277.0h2.8M661.2 277.0h2.8M666.8 277.0h5.7M692.3 277.0h2.8M700.9 277.0h2.8M732.0 277.0h2.8M737.7 277.0h2.8M576.1 279.7h2.8M596.0 279.7h2.8M604.5 279.7h2.8M613.0 279.7h14.2M630.0 279.7h5.7M641.3 279.7h2.8M647.0 279.7h17.0M666.8 279.7h2.8M672.5 279.7h5.7M683.8 279.7h2.8M698.0 279.7h2.8M709.4 279.7h2.8M715.0 279.7h2.8M593.1 282.4h2.8M604.5 282.4h2.8M613.0 282.4h8.5M624.3 282.4h11.3M638.5 282.4h17.0M672.5 282.4h2.8M689.5 282.4h2.8M709.4 282.4h2.8M573.3 285.0h2.8M587.5 285.0h2.8M596.0 285.0h2.8M604.5 285.0h11.3M618.6 285.0h2.8M624.3 285.0h5.7M635.6 285.0h2.8M647.0 285.0h8.5M681.0 285.0h5.7M698.0 285.0h2.8M706.5 285.0h2.8M712.2 285.0h2.8M723.5 285.0h2.8M743.4 285.0h2.8M590.3 287.7h2.8M596.0 287.7h2.8M601.6 287.7h2.8M610.1 287.7h5.7M618.6 287.7h2.8M630.0 287.7h5.7M641.3 287.7h5.7M655.5 287.7h2.8M664.0 287.7h2.8M669.7 287.7h2.8M715.0 287.7h2.8M723.5 287.7h2.8M561.9 290.4h2.8M567.6 290.4h2.8M601.6 290.4h5.7M610.1 290.4h2.8M618.6 290.4h2.8M624.3 290.4h2.8M632.8 290.4h2.8M638.5 290.4h2.8M644.1 290.4h5.7M655.5 290.4h5.7M720.7 290.4h2.8M576.1 293.1h2.8M610.1 293.1h2.8M618.6 293.1h2.8M630.0 293.1h5.7M641.3 293.1h2.8M695.2 293.1h2.8M729.2 293.1h2.8M601.6 295.8h2.8M613.0 295.8h5.7M621.5 295.8h5.7M632.8 295.8h5.7M641.3 295.8h2.8M683.8 295.8h2.8M703.7 295.8h2.8M584.6 298.5h5.7M601.6 298.5h2.8M607.3 298.5h2.8M615.8 298.5h2.8M627.1 298.5h2.8M635.6 298.5h2.8M649.8 298.5h5.7M686.7 298.5h2.8M630.0 301.1h5.7M596.0 303.8h2.8M604.5 303.8h2.8M613.0 303.8h2.8M632.8 303.8h5.7M669.7 303.8h2.8M692.3 303.8h2.8M593.1 306.5h2.8M598.8 306.5h2.8M615.8 306.5h5.7M647.0 306.5h2.8M686.7 306.5h2.8M695.2 306.5h2.8M706.5 306.5h2.8M590.3 309.2h2.8M604.5 309.2h2.8M615.8 309.2h2.8M652.7 309.2h2.8M686.7 309.2h2.8M700.9 309.2h2.8M746.2 314.6h2.8M615.8 317.2h2.8M658.3 317.2h5.7M570.4 319.9h2.8M686.7 322.6h2.8M695.2 322.6h2.8M621.5 325.3h2.8M709.4 325.3h2.8M630.0 330.7h2.8M672.5 330.7h2.8" stroke="#303030"/>
<path d="M740.5 212.6h2.8M740.5 215.3h5.7M720.7 217.9h5.7M743.4 217.9h5.7M751.9 217.9h2.8M709.4 220.6h8.5M746.2 220.6h5.7M709.4 223.3h2.8M746.2 223.3h2.8M751.9 223.3h2.8M700.9 226.0h5.7M749.0 226.0h2.8M698.0 228.7h5.7M695.2 231.4h2.8M746.2 231.4h2.8M689.5 234.0h5.7M740.5 234.0h8.5M683.8 236.7h2.8M689.5 236.7h2.8M683.8 239.4h2.8M734.9 239.4h2.8M683.8 242.1h2.8M729.2 242.1h2.8M678.2 244.8h5.7M723.5 244.8h5.7M723.5 247.5h5.7M675.3 250.1h2.8M681.0 250.1h5.7M715.0 250.1h2.8M681.0 252.8h8.5M712.2 252.8h2.8M678.2 255.5h8.5M689.5 255.5h2.8M695.2 255.5h14.2M683.8 258.2h2.8M695.2 258.2h2.8" stroke="#4d4d4d"/>
<path d="M729.2 215.3h2.8M734.9 215.3h5.7M746.2 215.3h2.8M729.2 217.9h2.8M734.9 217.9h2.8M749.0 217.9h2.8M726.4 220.6h2.8M743.4 220.6h2.8M712.2 223.3h2.8M717.9 223.3h2.8M743.4 223.3h2.8M749.0 223.3h2.8M706.5 226.0h2.8M743.4 226.0h5.7M703.7 228.7h2.8M743.4 228.7h5.7M698.0 231.4h2.8M692.3 236.7h2.8M732.0 236.7h2.8M737.7 236.7h2.8M729.2 239.4h5.7M689.5 242.1h2.8M732.0 242.1h2.8M683.8 244.8h2.8M681.0 247.5h5.7M720.7 247.5h2.8M686.7 250.1h5.7M700.9 250.1h5.7M689.5 252.8h2.8M698.0 252.8h2.8M703.7 252.8h2.8M709.4 252.8h2.8M692.3 255.5h2.8" stroke="#636363"/>
<path d="M726.4 217.9h2.8M732.0 217.9h2.8M737.7 217.9h5.7M717.9 220.6h8.5M737.7 220.6h5.7M715.0 223.3h2.8M723.5 223.3h2.8M737.7 223.3h5.7M709.4 226.0h2.8M715.0 226.0h2.8M740.5 228.7h2.8M703.7 231.4h2.8M737.7 231.4h8.5M695.2 234.0h2.8M737.7 234.0h2.8M695.2 236.7h2.8M729.2 236.7h2.8M734.9 236.7h2.8M689.5 239.4h5.7M686.7 242.1h2.8M692.3 242.1h2.8M723.5 242.1h5.7M686.7 244.8h2.8M720.7 244.8h2.8M686.7 247.5h5.7M715.0 247.5h5.7M692.3 250.1h2.8M698.0 250.1h2.8M706.5 250.1h8.5M692.3 252.8h5.7M700.9 252.8h2.8M706.5 252.8h2.8" stroke="#777777"/>
<path d="M729.2 220.6h8.5M726.4 223.3h2.8M732.0 223.3h5.7M712.2 226.0h2.8M740.5 226.0h2.8M706.5 228.7h2.8M734.9 228.7h5.7M700.9 231.4h2.8M734.9 231.4h2.8M698.0 234.0h8.5M732.0 234.0h5.7M698.0 236.7h2.8M695.2 239.4h5.7M695.2 242.1h2.8M689.5 244.8h5.7M700.9 244.8h2.8M709.4 244.8h5.7M717.9 244.8h2.8M692.3 247.5h2.8M698.0 247.5h5.7M709.4 247.5h5.7M695.2 250.1h2.8" stroke="#898989"/>
<path d="M720.7 223.3h2.8M729.2 223.3h2.8M717.9 226.0h8.5M732.0 226.0h8.5M709.4 228.7h5.7M720.7 228.7h2.8M726.4 228.7h5.7M706.5 231.4h2.8M726.4 231.4h2.8M732.0 231.4h2.8M706.5 234.0h2.8M729.2 234.0h2.8M706.5 236.7h2.8M720.7 236.7h5.7M700.9 239.4h2.8M723.5 239.4h5.7M698.0 242.1h2.8M709.4 242.1h2.8M715.0 242.1h8.5M695.2 244.8h5.7M715.0 244.8h2.8M695.2 247.5h2.8M703.7 247.5h5.7" stroke="#9a9a9a"/>
<path d="M726.4 226.0h5.7M715.0 228.7h2.8M732.0 228.7h2.8M709.4 231.4h2.8M723.5 231.4h2.8M729.2 231.4h2.8M709.4 234.0h5.7M723.5 234.0h5.7M700.9 236.7h5.7M709.4 236.7h8.5M726.4 236.7h2.8M706.5 239.4h2.8M712.2 239.4h11.3M700.9 242.1h8.5M712.2 242.1h2.8M703.7 244.8h5.7" stroke="#ababab"/>
<path d="M717.9 228.7h2.8M723.5 228.7h2.8M712.2 231.4h11.3M715.0 234.0h8.5M717.9 236.7h2.8M703.7 239.4h2.8M709.4 239.4h2.8" stroke="#bcbcbc"/>
</g>
<path d="M547.1 115.8H787.4000000000001V343.8M557.6 115.8V335.0M556.1 333.5H787.4000000000001" stroke="#000" stroke-width="3" fill="none"/>
<line x1="653.8000000000001" y1="115.8" x2="653.8000000000001" y2="333.5" stroke="#000" stroke-width="2.8"/>
<line x1="557.6" y1="208.2" x2="787.4000000000001" y2="208.2" stroke="#000" stroke-width="2.8"/>
<path d="M560.0 333.5v10.3M577.1 333.5v5.4M587.1 333.5v5.4M594.2 333.5v5.4M599.7 333.5v5.4M604.2 333.5v5.4M608.0 333.5v5.4M611.3 333.5v5.4M614.2 333.5v5.4M616.9 333.5v10.3M634.0 333.5v5.4M644.0 333.5v5.4M651.1 333.5v5.4M656.6 333.5v5.4M661.1 333.5v5.4M664.9 333.5v5.4M668.2 333.5v5.4M671.1 333.5v5.4M673.7 333.5v10.3M690.8 333.5v5.4M700.8 333.5v5.4M707.9 333.5v5.4M713.4 333.5v5.4M717.9 333.5v5.4M721.7 333.5v5.4M725.0 333.5v5.4M727.9 333.5v5.4M730.6 333.5v10.3M747.7 333.5v5.4M757.7 333.5v5.4M764.8 333.5v5.4M770.3 333.5v5.4M774.8 333.5v5.4M778.6 333.5v5.4M781.9 333.5v5.4M784.8 333.5v5.4" stroke="#000" stroke-width="2.7" fill="none"/>
<path d="M557.6 331.3h-10.4M557.6 315.1h-5.2M557.6 305.6h-5.2M557.6 298.9h-5.2M557.6 293.6h-5.2M557.6 289.4h-5.2M557.6 285.8h-5.2M557.6 282.6h-5.2M557.6 279.9h-5.2M557.6 277.4h-10.4M557.6 261.2h-5.2M557.6 251.7h-5.2M557.6 245.0h-5.2M557.6 239.8h-5.2M557.6 235.5h-5.2M557.6 231.9h-5.2M557.6 228.8h-5.2M557.6 226.0h-5.2M557.6 223.6h-10.4M557.6 207.3h-5.2M557.6 197.8h-5.2M557.6 191.1h-5.2M557.6 185.9h-5.2M557.6 181.6h-5.2M557.6 178.0h-5.2M557.6 174.9h-5.2M557.6 172.1h-5.2M557.6 169.7h-10.4M557.6 153.5h-5.2M557.6 144.0h-5.2M557.6 137.2h-5.2M557.6 132.0h-5.2M557.6 127.8h-5.2M557.6 124.1h-5.2M557.6 121.0h-5.2M557.6 118.3h-5.2M557.6 115.8h-10.4" stroke="#000" stroke-width="2.7" fill="none"/>
<text class="t" x="667.1" y="106" font-size="35.6" text-anchor="middle">5</text>
<text class="t" x="565.1" y="161.3" font-size="35">10.1%</text>
<g filter="url(#soft)" fill="none" shape-rendering="crispEdges" stroke-width="2.68">
<path d="M996.5 118.6h2.8M962.5 121.3h2.8M976.6 124.0h5.7M990.8 124.0h2.8M982.3 126.7h2.8M1005.0 126.7h2.8M1007.8 129.4h2.8M1016.3 129.4h2.8M1022.0 129.4h2.8M1027.7 129.4h2.8M996.5 132.1h2.8M1010.7 132.1h2.8M1019.2 132.1h2.8M968.1 134.7h2.8M985.1 134.7h2.8M1005.0 134.7h2.8M1010.7 134.7h2.8M1016.3 134.7h2.8M1024.8 134.7h5.7M942.6 137.4h2.8M971.0 137.4h8.5M982.3 137.4h2.8M988.0 137.4h14.2M1005.0 137.4h8.5M1016.3 137.4h2.8M1024.8 137.4h2.8M962.5 140.1h2.8M968.1 140.1h5.7M982.3 140.1h2.8M988.0 140.1h2.8M999.3 140.1h2.8M1007.8 140.1h2.8M1022.0 140.1h2.8M936.9 142.8h2.8M962.5 142.8h2.8M971.0 142.8h11.3M988.0 142.8h5.7M999.3 142.8h5.7M1010.7 142.8h2.8M1016.3 142.8h2.8M962.5 145.5h2.8M982.3 145.5h14.2M1002.2 145.5h5.7M1013.5 145.5h2.8M1019.2 145.5h2.8M936.9 148.2h2.8M956.8 148.2h8.5M968.1 148.2h5.7M976.6 148.2h11.3M990.8 148.2h11.3M1005.0 148.2h5.7M1019.2 148.2h2.8M959.6 150.8h2.8M971.0 150.8h17.0M990.8 150.8h17.0M1013.5 150.8h2.8M1024.8 150.8h2.8M959.6 153.5h19.8M982.3 153.5h11.3M999.3 153.5h8.5M1024.8 153.5h2.8M959.6 156.2h2.8M965.3 156.2h8.5M976.6 156.2h8.5M988.0 156.2h17.0M1007.8 156.2h2.8M1013.5 156.2h2.8M936.9 158.9h2.8M942.6 158.9h5.7M965.3 158.9h2.8M973.8 158.9h14.2M990.8 158.9h11.3M1005.0 158.9h2.8M1010.7 158.9h2.8M1019.2 158.9h2.8M939.8 161.6h2.8M945.5 161.6h2.8M954.0 161.6h5.7M962.5 161.6h5.7M971.0 161.6h5.7M979.5 161.6h5.7M988.0 161.6h5.7M996.5 161.6h2.8M1002.2 161.6h2.8M1007.8 161.6h2.8M1024.8 161.6h2.8M939.8 164.3h2.8M951.1 164.3h5.7M959.6 164.3h2.8M965.3 164.3h5.7M976.6 164.3h11.3M990.8 164.3h5.7M999.3 164.3h8.5M1010.7 164.3h2.8M1016.3 164.3h2.8M939.8 166.9h2.8M945.5 166.9h5.7M956.8 166.9h36.9M996.5 166.9h11.3M1024.8 166.9h2.8M911.4 169.6h2.8M934.1 169.6h2.8M948.3 169.6h2.8M954.0 169.6h8.5M965.3 169.6h45.4M1013.5 169.6h2.8M1022.0 169.6h2.8M1027.7 169.6h2.8M948.3 172.3h2.8M954.0 172.3h2.8M959.6 172.3h39.7M1002.2 172.3h8.5M917.1 175.0h2.8M931.3 175.0h5.7M939.8 175.0h2.8M954.0 175.0h42.5M1005.0 175.0h14.2M934.1 177.7h2.8M954.0 177.7h2.8M959.6 177.7h25.5M990.8 177.7h8.5M1002.2 177.7h5.7M1013.5 177.7h5.7M815.0 180.4h2.8M846.2 180.4h2.8M860.4 180.4h2.8M945.5 180.4h8.5M956.8 180.4h28.4M990.8 180.4h22.7M1022.0 180.4h2.8M1027.7 180.4h2.8M897.3 183.1h2.8M928.4 183.1h2.8M939.8 183.1h2.8M951.1 183.1h2.8M956.8 183.1h25.5M985.1 183.1h5.7M996.5 183.1h5.7M1005.0 183.1h2.8M1010.7 183.1h2.8M1019.2 183.1h2.8M840.6 185.7h2.8M948.3 185.7h2.8M954.0 185.7h22.7M979.5 185.7h5.7M988.0 185.7h22.7M1024.8 185.7h2.8M809.4 188.4h2.8M925.6 188.4h2.8M934.1 188.4h2.8M939.8 188.4h5.7M951.1 188.4h2.8M956.8 188.4h2.8M968.1 188.4h11.3M982.3 188.4h2.8M988.0 188.4h2.8M993.6 188.4h5.7M1002.2 188.4h2.8M1013.5 188.4h5.7M1024.8 188.4h2.8M854.7 191.1h2.8M900.1 191.1h2.8M919.9 191.1h2.8M934.1 191.1h2.8M939.8 191.1h2.8M951.1 191.1h34.0M988.0 191.1h11.3M1002.2 191.1h2.8M1010.7 191.1h2.8M1016.3 191.1h5.7M1027.7 191.1h2.8M826.4 193.8h2.8M880.2 193.8h2.8M945.5 193.8h2.8M951.1 193.8h14.2M968.1 193.8h17.0M990.8 193.8h5.7M999.3 193.8h8.5M1022.0 193.8h5.7M871.7 196.5h2.8M922.8 196.5h2.8M928.4 196.5h2.8M934.1 196.5h2.8M939.8 196.5h2.8M951.1 196.5h2.8M959.6 196.5h5.7M968.1 196.5h17.0M990.8 196.5h5.7M999.3 196.5h2.8M1005.0 196.5h5.7M1013.5 196.5h5.7M1024.8 196.5h2.8M914.3 199.2h2.8M919.9 199.2h2.8M928.4 199.2h2.8M939.8 199.2h11.3M959.6 199.2h25.5M988.0 199.2h25.5M1016.3 199.2h2.8M1027.7 199.2h2.8M885.9 201.8h2.8M891.6 201.8h2.8M942.6 201.8h2.8M951.1 201.8h51.0M1007.8 201.8h2.8M1013.5 201.8h2.8M1019.2 201.8h2.8M1024.8 201.8h2.8M911.4 204.5h2.8M919.9 204.5h2.8M931.3 204.5h8.5M945.5 204.5h53.9M1002.2 204.5h17.0M1022.0 204.5h2.8M891.6 207.2h2.8M925.6 207.2h2.8M931.3 207.2h51.0M990.8 207.2h17.0M1019.2 207.2h2.8M1024.8 207.2h2.8M908.6 209.9h5.7M928.4 209.9h2.8M936.9 209.9h31.2M973.8 209.9h2.8M985.1 209.9h2.8M990.8 209.9h28.4M1024.8 209.9h2.8M885.9 212.6h2.8M919.9 212.6h2.8M928.4 212.6h14.2M945.5 212.6h14.2M999.3 212.6h5.7M1007.8 212.6h8.5M849.1 215.3h2.8M905.8 215.3h5.7M922.8 215.3h5.7M931.3 215.3h8.5M942.6 215.3h8.5M954.0 215.3h2.8M999.3 215.3h14.2M1016.3 215.3h8.5M866.1 217.9h2.8M888.8 217.9h2.8M900.1 217.9h2.8M908.6 217.9h8.5M922.8 217.9h22.7M948.3 217.9h2.8M993.6 217.9h2.8M999.3 217.9h8.5M1013.5 217.9h2.8M834.9 220.6h2.8M897.3 220.6h2.8M905.8 220.6h2.8M917.1 220.6h25.5M945.5 220.6h2.8M993.6 220.6h5.7M1002.2 220.6h5.7M1013.5 220.6h2.8M877.4 223.3h2.8M900.1 223.3h2.8M908.6 223.3h2.8M917.1 223.3h5.7M928.4 223.3h8.5M939.8 223.3h2.8M993.6 223.3h14.2M1010.7 223.3h2.8M1016.3 223.3h2.8M880.2 226.0h2.8M914.3 226.0h2.8M925.6 226.0h8.5M993.6 226.0h17.0M866.1 228.7h2.8M885.9 228.7h2.8M900.1 228.7h2.8M908.6 228.7h2.8M914.3 228.7h8.5M925.6 228.7h8.5M990.8 228.7h17.0M1013.5 228.7h2.8M866.1 231.4h2.8M877.4 231.4h2.8M888.8 231.4h2.8M897.3 231.4h2.8M902.9 231.4h11.3M917.1 231.4h11.3M988.0 231.4h5.7M1002.2 231.4h2.8M1016.3 231.4h2.8M871.7 234.0h2.8M891.6 234.0h2.8M902.9 234.0h2.8M911.4 234.0h17.0M985.1 234.0h17.0M1007.8 234.0h2.8M1022.0 234.0h2.8M857.6 236.7h2.8M866.1 236.7h2.8M883.1 236.7h2.8M897.3 236.7h8.5M908.6 236.7h14.2M979.5 236.7h25.5M1010.7 236.7h2.8M849.1 239.4h2.8M863.2 239.4h2.8M877.4 239.4h2.8M888.8 239.4h2.8M897.3 239.4h5.7M905.8 239.4h2.8M911.4 239.4h14.2M976.6 239.4h8.5M988.0 239.4h2.8M996.5 239.4h2.8M1010.7 239.4h2.8M1016.3 239.4h2.8M1022.0 239.4h2.8M851.9 242.1h8.5M877.4 242.1h5.7M891.6 242.1h2.8M900.1 242.1h25.5M968.1 242.1h19.8M993.6 242.1h2.8M1005.0 242.1h2.8M820.7 244.8h2.8M860.4 244.8h2.8M866.1 244.8h5.7M880.2 244.8h2.8M897.3 244.8h5.7M905.8 244.8h8.5M917.1 244.8h8.5M959.6 244.8h2.8M965.3 244.8h19.8M1005.0 244.8h2.8M1013.5 244.8h2.8M851.9 247.5h2.8M857.6 247.5h2.8M863.2 247.5h5.7M874.6 247.5h8.5M885.9 247.5h2.8M891.6 247.5h2.8M900.1 247.5h19.8M951.1 247.5h2.8M959.6 247.5h14.2M976.6 247.5h5.7M854.7 250.1h5.7M863.2 250.1h8.5M877.4 250.1h8.5M888.8 250.1h19.8M911.4 250.1h19.8M939.8 250.1h2.8M948.3 250.1h31.2M990.8 250.1h2.8M817.9 252.8h2.8M857.6 252.8h2.8M863.2 252.8h8.5M874.6 252.8h8.5M885.9 252.8h2.8M891.6 252.8h11.3M905.8 252.8h2.8M911.4 252.8h11.3M925.6 252.8h2.8M931.3 252.8h5.7M939.8 252.8h22.7M965.3 252.8h5.7M985.1 252.8h2.8M832.1 255.5h2.8M851.9 255.5h8.5M863.2 255.5h5.7M871.7 255.5h14.2M888.8 255.5h8.5M900.1 255.5h65.2M968.1 255.5h11.3M988.0 255.5h5.7M1010.7 255.5h2.8M826.4 258.2h2.8M832.1 258.2h2.8M843.4 258.2h17.0M863.2 258.2h31.2M900.1 258.2h8.5M914.3 258.2h8.5M925.6 258.2h11.3M939.8 258.2h5.7M948.3 258.2h8.5M959.6 258.2h2.8M968.1 258.2h2.8M985.1 258.2h2.8M837.7 260.9h2.8M846.2 260.9h11.3M863.2 260.9h11.3M877.4 260.9h8.5M888.8 260.9h53.9M951.1 260.9h2.8M959.6 260.9h2.8M968.1 260.9h2.8M990.8 260.9h2.8M803.7 263.6h11.3M840.6 263.6h8.5M851.9 263.6h2.8M857.6 263.6h17.0M877.4 263.6h34.0M914.3 263.6h8.5M925.6 263.6h2.8M934.1 263.6h8.5M945.5 263.6h5.7M956.8 263.6h2.8M968.1 263.6h2.8M979.5 263.6h5.7M837.7 266.2h5.7M846.2 266.2h2.8M851.9 266.2h56.7M911.4 266.2h2.8M925.6 266.2h2.8M931.3 266.2h8.5M945.5 266.2h2.8M951.1 266.2h2.8M979.5 266.2h2.8M832.1 268.9h2.8M840.6 268.9h2.8M849.1 268.9h2.8M854.7 268.9h45.4M905.8 268.9h8.5M922.8 268.9h11.3M945.5 268.9h2.8M951.1 268.9h8.5M962.5 268.9h2.8M973.8 268.9h5.7M823.5 271.6h5.7M857.6 271.6h34.0M894.4 271.6h22.7M919.9 271.6h5.7M939.8 271.6h5.7M837.7 274.3h2.8M846.2 274.3h2.8M854.7 274.3h8.5M866.1 274.3h5.7M874.6 274.3h5.7M883.1 274.3h5.7M891.6 274.3h5.7M900.1 274.3h8.5M917.1 274.3h2.8M959.6 274.3h2.8M968.1 274.3h2.8M976.6 274.3h2.8M846.2 277.0h2.8M851.9 277.0h2.8M857.6 277.0h34.0M894.4 277.0h8.5M908.6 277.0h5.7M917.1 277.0h2.8M922.8 277.0h5.7M931.3 277.0h2.8M945.5 277.0h2.8M849.1 279.7h2.8M854.7 279.7h14.2M871.7 279.7h17.0M891.6 279.7h5.7M900.1 279.7h5.7M908.6 279.7h2.8M919.9 279.7h5.7M934.1 279.7h2.8M857.6 282.4h2.8M863.2 282.4h11.3M877.4 282.4h2.8M883.1 282.4h11.3M897.3 282.4h2.8M902.9 282.4h2.8M911.4 282.4h5.7M928.4 282.4h2.8M934.1 282.4h5.7M942.6 282.4h2.8M1016.3 282.4h2.8M815.0 285.0h2.8M846.2 285.0h2.8M854.7 285.0h2.8M860.4 285.0h2.8M866.1 285.0h5.7M874.6 285.0h5.7M883.1 285.0h14.2M900.1 285.0h2.8M832.1 287.7h2.8M837.7 287.7h8.5M854.7 287.7h14.2M871.7 287.7h14.2M888.8 287.7h11.3M902.9 287.7h2.8M914.3 287.7h2.8M925.6 287.7h2.8M942.6 287.7h2.8M973.8 287.7h2.8M826.4 290.4h2.8M843.4 290.4h8.5M854.7 290.4h5.7M863.2 290.4h2.8M871.7 290.4h11.3M885.9 290.4h2.8M891.6 290.4h2.8M900.1 290.4h2.8M914.3 290.4h2.8M928.4 290.4h2.8M942.6 290.4h2.8M951.1 290.4h2.8M1002.2 290.4h2.8M837.7 293.1h2.8M851.9 293.1h2.8M857.6 293.1h8.5M894.4 293.1h2.8M905.8 293.1h2.8M911.4 293.1h2.8M942.6 293.1h2.8M832.1 295.8h2.8M837.7 295.8h5.7M863.2 295.8h2.8M874.6 295.8h2.8M880.2 295.8h2.8M885.9 295.8h2.8M891.6 295.8h2.8M905.8 295.8h2.8M917.1 295.8h2.8M942.6 295.8h2.8M948.3 295.8h2.8M868.9 298.5h2.8M877.4 298.5h2.8M900.1 298.5h2.8M931.3 298.5h2.8M939.8 298.5h2.8M851.9 301.1h5.7M866.1 301.1h2.8M894.4 301.1h5.7M965.3 301.1h2.8M863.2 303.8h5.7M902.9 303.8h2.8M860.4 306.5h2.8M868.9 306.5h2.8M883.1 306.5h2.8M917.1 306.5h2.8M959.6 306.5h2.8M979.5 306.5h2.8M990.8 306.5h2.8M829.2 309.2h5.7M928.4 309.2h2.8M877.4 311.9h2.8M948.3 311.9h2.8M849.1 314.6h2.8M883.1 314.6h2.8M840.6 317.2h2.8M846.2 319.9h2.8M883.1 319.9h2.8M888.8 319.9h2.8M931.3 319.9h2.8M888.8 322.6h2.8M999.3 322.6h2.8M817.9 325.3h2.8" stroke="#303030"/>
<path d="M982.3 207.2h8.5M968.1 209.9h5.7M979.5 209.9h2.8M962.5 212.6h2.8M979.5 212.6h2.8M990.8 212.6h8.5M951.1 215.3h2.8M956.8 215.3h2.8M990.8 215.3h8.5M945.5 217.9h2.8M996.5 217.9h2.8M942.6 220.6h2.8M936.9 223.3h2.8M988.0 223.3h5.7M934.1 226.0h2.8M939.8 226.0h2.8M985.1 226.0h8.5M988.0 228.7h2.8M928.4 231.4h5.7M982.3 231.4h5.7M979.5 234.0h5.7M922.8 236.7h2.8M971.0 236.7h8.5M925.6 239.4h2.8M965.3 239.4h2.8M971.0 239.4h5.7M925.6 242.1h2.8M962.5 242.1h5.7M962.5 244.8h2.8M919.9 247.5h2.8M925.6 247.5h5.7M942.6 247.5h2.8M956.8 247.5h2.8M931.3 250.1h8.5M945.5 250.1h2.8M928.4 252.8h2.8M936.9 252.8h2.8" stroke="#4d4d4d"/>
<path d="M976.6 209.9h2.8M982.3 209.9h2.8M988.0 209.9h2.8M959.6 212.6h2.8M965.3 212.6h2.8M971.0 212.6h5.7M985.1 212.6h5.7M959.6 215.3h5.7M968.1 215.3h2.8M988.0 215.3h2.8M951.1 217.9h5.7M988.0 217.9h5.7M948.3 220.6h5.7M988.0 220.6h5.7M982.3 223.3h5.7M936.9 226.0h2.8M982.3 226.0h2.8M934.1 228.7h2.8M985.1 228.7h2.8M934.1 231.4h2.8M979.5 231.4h2.8M928.4 234.0h2.8M934.1 234.0h2.8M973.8 234.0h5.7M925.6 236.7h8.5M968.1 239.4h2.8M928.4 242.1h2.8M959.6 242.1h2.8M925.6 244.8h2.8M948.3 244.8h5.7M956.8 244.8h2.8M931.3 247.5h8.5M945.5 247.5h5.7M954.0 247.5h2.8M942.6 250.1h2.8" stroke="#636363"/>
<path d="M968.1 212.6h2.8M976.6 212.6h2.8M982.3 212.6h2.8M965.3 215.3h2.8M979.5 215.3h8.5M956.8 217.9h5.7M982.3 217.9h2.8M954.0 220.6h2.8M985.1 220.6h2.8M942.6 223.3h8.5M936.9 228.7h2.8M976.6 228.7h2.8M982.3 228.7h2.8M936.9 231.4h2.8M971.0 231.4h2.8M976.6 231.4h2.8M931.3 234.0h2.8M971.0 234.0h2.8M934.1 236.7h2.8M928.4 239.4h8.5M956.8 239.4h2.8M962.5 239.4h2.8M931.3 242.1h2.8M936.9 242.1h2.8M945.5 242.1h2.8M951.1 242.1h8.5M928.4 244.8h5.7M936.9 244.8h11.3M954.0 244.8h2.8M939.8 247.5h2.8" stroke="#777777"/>
<path d="M971.0 215.3h8.5M962.5 217.9h2.8M971.0 217.9h11.3M985.1 217.9h2.8M976.6 220.6h8.5M951.1 223.3h5.7M979.5 223.3h2.8M942.6 226.0h2.8M948.3 226.0h2.8M976.6 226.0h5.7M939.8 228.7h5.7M979.5 228.7h2.8M973.8 231.4h2.8M942.6 234.0h2.8M968.1 234.0h2.8M936.9 236.7h2.8M959.6 236.7h2.8M965.3 236.7h5.7M936.9 239.4h5.7M951.1 239.4h2.8M959.6 239.4h2.8M934.1 242.1h2.8M939.8 242.1h5.7M934.1 244.8h2.8" stroke="#898989"/>
<path d="M965.3 217.9h5.7M956.8 220.6h8.5M968.1 220.6h8.5M956.8 223.3h2.8M945.5 226.0h2.8M973.8 226.0h2.8M948.3 228.7h2.8M973.8 228.7h2.8M939.8 231.4h5.7M965.3 231.4h2.8M936.9 234.0h5.7M945.5 234.0h2.8M962.5 234.0h2.8M939.8 236.7h5.7M951.1 236.7h5.7M962.5 236.7h2.8M942.6 239.4h8.5M954.0 239.4h2.8M948.3 242.1h2.8" stroke="#9a9a9a"/>
<path d="M965.3 220.6h2.8M959.6 223.3h19.8M951.1 226.0h2.8M956.8 226.0h8.5M971.0 226.0h2.8M945.5 228.7h2.8M954.0 228.7h2.8M959.6 228.7h2.8M965.3 228.7h8.5M945.5 231.4h5.7M959.6 231.4h5.7M968.1 231.4h2.8M948.3 234.0h5.7M959.6 234.0h2.8M965.3 234.0h2.8M945.5 236.7h5.7M956.8 236.7h2.8" stroke="#ababab"/>
<path d="M954.0 226.0h2.8M965.3 226.0h5.7M951.1 228.7h2.8M956.8 228.7h2.8M962.5 228.7h2.8M951.1 231.4h8.5M954.0 234.0h5.7" stroke="#bcbcbc"/>
</g>
<path d="M791.7 115.8H1032.0V343.8M802.2 115.8V335.0M800.7 333.5H1032.0" stroke="#000" stroke-width="3" fill="none"/>
<line x1="898.4000000000001" y1="115.8" x2="898.4000000000001" y2="333.5" stroke="#000" stroke-width="2.8"/>
<line x1="802.2" y1="208.2" x2="1032.0" y2="208.2" stroke="#000" stroke-width="2.8"/>
<path d="M804.6 333.5v10.3M821.7 333.5v5.4M831.7 333.5v5.4M838.8 333.5v5.4M844.3 333.5v5.4M848.8 333.5v5.4M852.6 333.5v5.4M855.9 333.5v5.4M858.8 333.5v5.4M861.5 333.5v10.3M878.6 333.5v5.4M888.6 333.5v5.4M895.7 333.5v5.4M901.2 333.5v5.4M905.7 333.5v5.4M909.5 333.5v5.4M912.8 333.5v5.4M915.7 333.5v5.4M918.3 333.5v10.3M935.4 333.5v5.4M945.4 333.5v5.4M952.5 333.5v5.4M958.0 333.5v5.4M962.5 333.5v5.4M966.3 333.5v5.4M969.6 333.5v5.4M972.5 333.5v5.4M975.1 333.5v10.3M992.3 333.5v5.4M1002.3 333.5v5.4M1009.4 333.5v5.4M1014.9 333.5v5.4M1019.4 333.5v5.4M1023.2 333.5v5.4M1026.5 333.5v5.4M1029.4 333.5v5.4" stroke="#000" stroke-width="2.7" fill="none"/>
<path d="M802.2 331.3h-10.4M802.2 315.1h-5.2M802.2 305.6h-5.2M802.2 298.9h-5.2M802.2 293.6h-5.2M802.2 289.4h-5.2M802.2 285.8h-5.2M802.2 282.6h-5.2M802.2 279.9h-5.2M802.2 277.4h-10.4M802.2 261.2h-5.2M802.2 251.7h-5.2M802.2 245.0h-5.2M802.2 239.8h-5.2M802.2 235.5h-5.2M802.2 231.9h-5.2M802.2 228.8h-5.2M802.2 226.0h-5.2M802.2 223.6h-10.4M802.2 207.3h-5.2M802.2 197.8h-5.2M802.2 191.1h-5.2M802.2 185.9h-5.2M802.2 181.6h-5.2M802.2 178.0h-5.2M802.2 174.9h-5.2M802.2 172.1h-5.2M802.2 169.7h-10.4M802.2 153.5h-5.2M802.2 144.0h-5.2M802.2 137.2h-5.2M802.2 132.0h-5.2M802.2 127.8h-5.2M802.2 124.1h-5.2M802.2 121.0h-5.2M802.2 118.3h-5.2M802.2 115.8h-10.4" stroke="#000" stroke-width="2.7" fill="none"/>
<text class="t" x="911.7" y="106" font-size="35.6" text-anchor="middle">10</text>
<text class="t" x="809.7" y="161.3" font-size="35">15.6%</text>
<text class="t" x="45" y="226" font-size="35.6" text-anchor="middle" transform="rotate(-90 45 226)">Foxp3</text>
<line x1="33.3" y1="331.5" x2="33.3" y2="283" stroke="#000" stroke-width="3"/>
<line x1="33.3" y1="166" x2="33.3" y2="123" stroke="#000" stroke-width="3"/>
<path d="M33.3 115l-4.3 8.6h8.6z" fill="#000"/>
<line x1="73" y1="362.5" x2="499" y2="362.5" stroke="#000" stroke-width="3.2"/>
<text class="t" x="553.5" y="374.5" font-size="35.6" text-anchor="middle">CD25</text>
<line x1="609" y1="362.5" x2="1028" y2="362.5" stroke="#000" stroke-width="3.2"/>
<path d="M1035.6 362.5l-8.6 -4.3v8.6z" fill="#000"/>
<text class="L" x="1046" y="50">B</text>
<path d="M1159.5 25.8V342.7H1640.5" stroke="#000" stroke-width="2.8" fill="none"/>
<text class="t" x="1146.5" y="355.0" font-size="35.6" text-anchor="end">0</text>
<text class="t" x="1146.5" y="276.2" font-size="35.6" text-anchor="end">0.5</text>
<text class="t" x="1146.5" y="197.3" font-size="35.6" text-anchor="end">1.0</text>
<text class="t" x="1146.5" y="118.5" font-size="35.6" text-anchor="end">1.5</text>
<text class="t" x="1146.5" y="39.6" font-size="35.6" text-anchor="end">2.0</text>
<path d="M1148.5 342.7H1159.5M1148.5 263.9H1159.5M1148.5 185.0H1159.5M1148.5 106.2H1159.5M1148.5 27.3H1159.5" stroke="#000" stroke-width="2.8" fill="none"/>
<rect x="1178" y="300.6" width="82.5" height="42.1" fill="#595959" stroke="#000" stroke-width="2.6"/>
<path d="M1219.2 298.5V302.5M1216.95 298.5h4.5M1216.95 302.5h4.5" stroke="#000" stroke-width="2.6" fill="none"/>
<rect x="1298.7" y="254" width="82.3" height="88.7" fill="#595959" stroke="#000" stroke-width="2.6"/>
<path d="M1339.8 245V263M1337.55 245h4.5M1337.55 263h4.5" stroke="#000" stroke-width="2.6" fill="none"/>
<rect x="1420" y="199.5" width="82.4" height="143.2" fill="#595959" stroke="#000" stroke-width="2.6"/>
<path d="M1461.2 198.5V200.5M1458.95 198.5h4.5M1458.95 200.5h4.5" stroke="#000" stroke-width="2.6" fill="none"/>
<rect x="1541" y="97" width="82.4" height="245.7" fill="#595959" stroke="#000" stroke-width="2.6"/>
<path d="M1582.2 95V99M1579.95 95h4.5M1579.95 99h4.5" stroke="#000" stroke-width="2.6" fill="none"/>
<text class="t" x="1214" y="381" font-size="35.6" text-anchor="middle">0</text>
<text class="t" x="1340" y="381" font-size="35.6" text-anchor="middle">1</text>
<text class="t" x="1461" y="381" font-size="35.6" text-anchor="middle">5</text>
<text class="t" x="1582" y="381" font-size="35.6" text-anchor="middle">10</text>
<text class="t" x="1400" y="413.5" font-size="35.6" text-anchor="middle">AQ (μM)</text>
<text class="t" x="1579" y="79" font-size="35.6" text-anchor="middle">**</text>
<text class="t" x="1092" y="186" font-size="35.6" text-anchor="middle" transform="rotate(-90 1092 186)">Foxp3 (x10<tspan font-size="24" dy="-10.5">-2</tspan><tspan dy="10.5">)</tspan></text>
<text class="L" x="15.6" y="436">C</text>
<text class="t" x="57" y="480" font-size="35.6" text-anchor="middle">AQ</text>
<text class="t" x="53" y="523.5" font-size="35.6" text-anchor="middle">(<tspan font-family='"Liberation Serif", "DejaVu Serif", serif' font-style="italic" font-size="38">μ</tspan>M)</text>
<path d="M198.6 648.1L200.3 641.9L201.9 639.6L203.5 631.0L205.1 630.4L206.7 621.2L208.3 605.4L209.9 595.2L211.6 578.9L213.2 563.4L214.8 552.4L216.4 543.6L218.0 529.0L219.6 527.0L221.3 508.2L222.9 503.3L224.5 496.7L226.1 491.7L227.7 495.9L229.8 497.4L231.9 491.8L233.9 512.7L235.8 524.1L237.4 533.2L239.0 541.9L240.6 554.9L242.2 567.7L243.9 571.0L245.5 584.1L247.1 587.0L248.7 597.9L250.3 611.3L251.9 621.7L253.6 622.5L255.2 618.7L256.8 622.4L258.4 621.0L260.0 629.0L261.6 632.3L263.2 637.3L264.9 642.3L266.5 643.0L268.1 639.6L269.7 642.3L271.3 637.8L272.9 640.9L274.5 635.9L276.2 639.1L277.8 639.8L279.4 636.7L281.0 634.4L282.6 636.2L284.2 635.1L285.9 633.4L287.5 630.0L289.1 630.2L290.7 626.1L292.3 628.7L293.9 626.4L295.5 628.1L297.2 622.9L298.8 626.8L300.4 625.7L302.0 628.3L303.6 633.5L305.2 633.1L306.8 633.5L308.5 632.7L310.1 632.1L311.7 632.7L313.3 636.9L314.9 640.5L316.5 640.0L318.2 638.0L319.8 643.3L321.4 638.9L323.0 637.6L324.6 640.1L326.2 639.5L327.8 637.1L329.5 641.9L331.1 638.0L332.7 638.4L334.3 637.3L335.9 638.2L337.5 644.5L339.1 645.5L340.8 644.5L342.4 642.4L344.0 643.0L345.6 643.1L347.2 642.5L348.8 646.8L350.5 645.0L352.1 642.9L353.7 644.2L355.3 645.4L356.9 645.8L358.5 645.9L360.1 643.9L361.8 647.5L363.4 643.9L365.0 645.8L366.6 647.4L368.2 644.2L369.8 643.9L371.4 648.1L373.1 647.6L374.7 645.1L376.3 647.6L377.9 644.8L379.5 648.1L381.1 644.7L382.8 645.1L384.4 645.8L386.0 648.0L387.6 648.1L389.2 646.2L390.8 647.7L392.4 647.8L394.1 647.9L395.7 648.0L397.3 648.1" stroke="#000" stroke-width="1.9" fill="none" stroke-linejoin="miter"/>
<path d="M124.8 651.1V479.6H489.7V649.7H123.39999999999999" stroke="#000" stroke-width="2.8" fill="none"/>
<path d="M127.0 649.7v9.2M154.1 649.7v4.7M170.0 649.7v4.7M181.3 649.7v4.7M190.0 649.7v4.7M197.1 649.7v4.7M203.2 649.7v4.7M208.4 649.7v4.7M213.0 649.7v4.7M217.1 649.7v9.2M244.3 649.7v4.7M260.1 649.7v4.7M271.4 649.7v4.7M280.1 649.7v4.7M287.3 649.7v4.7M293.3 649.7v4.7M298.5 649.7v4.7M303.1 649.7v4.7M307.2 649.7v9.2M334.4 649.7v4.7M350.3 649.7v4.7M361.5 649.7v4.7M370.2 649.7v4.7M377.4 649.7v4.7M383.4 649.7v4.7M388.6 649.7v4.7M393.3 649.7v4.7M397.4 649.7v9.2M424.5 649.7v4.7M440.4 649.7v4.7M451.6 649.7v4.7M460.4 649.7v4.7M467.5 649.7v4.7M473.5 649.7v4.7M478.8 649.7v4.7M483.4 649.7v4.7M487.5 649.7v9.2" stroke="#000" stroke-width="2.5" fill="none"/>
<path d="M124.8 647.2h-8.6M124.8 640.6h-4.4M124.8 634.0h-4.4M124.8 627.4h-4.4M124.8 620.7h-4.4M124.8 614.1h-8.6M124.8 607.5h-4.4M124.8 600.9h-4.4M124.8 594.3h-4.4M124.8 587.7h-4.4M124.8 581.0h-8.6M124.8 574.4h-4.4M124.8 567.8h-4.4M124.8 561.2h-4.4M124.8 554.6h-4.4M124.8 548.0h-8.6M124.8 541.3h-4.4M124.8 534.7h-4.4M124.8 528.1h-4.4M124.8 521.5h-4.4M124.8 514.9h-8.6M124.8 508.3h-4.4M124.8 501.6h-4.4M124.8 495.0h-4.4M124.8 488.4h-4.4M124.8 481.8h-8.6" stroke="#000" stroke-width="2.4" fill="none"/>
<path d="M268 564H440M268 551v26M440 551v26" stroke="#000" stroke-width="2.8" fill="none"/>
<text class="t" x="354" y="552" font-size="34.8" text-anchor="middle">15.6%</text>
<text class="t" x="112" y="575.6500000000001" font-size="35.6" text-anchor="middle" transform="rotate(-90 112 575.6500000000001)">Counts</text>
<text class="t" x="57" y="579.6500000000001" font-size="35.6" text-anchor="middle">0</text>
<path d="M200.9 840.5L202.8 833.9L204.6 825.8L206.5 821.3L208.3 818.4L210.2 801.3L212.0 782.5L213.9 768.4L215.8 748.3L217.5 743.6L219.3 730.9L221.0 714.8L222.7 711.0L224.5 700.0L226.1 710.6L227.7 715.9L229.8 703.3L231.9 675.9L233.7 687.6L235.6 696.5L237.4 706.7L239.0 716.2L240.6 734.3L242.2 743.6L243.9 746.7L245.5 761.9L247.1 765.9L248.7 780.6L250.3 787.4L251.9 797.6L253.6 805.0L255.2 810.7L256.8 815.5L258.4 818.5L260.0 819.3L261.6 824.6L263.2 826.3L264.9 830.6L266.5 832.5L268.1 830.6L269.7 833.9L271.3 834.9L272.9 832.6L274.5 835.0L276.2 828.8L277.8 830.5L279.4 832.3L281.0 832.3L282.6 828.5L284.2 825.8L285.9 826.7L287.5 823.8L289.1 825.1L290.7 821.6L292.3 819.5L293.9 821.8L295.5 822.8L297.2 820.6L298.8 821.0L300.4 820.6L302.0 820.1L303.6 818.0L305.2 821.8L306.8 826.4L308.5 825.5L310.1 828.6L311.7 831.0L313.3 826.8L314.9 831.5L316.5 830.7L318.2 828.5L319.8 830.4L321.4 832.6L323.0 833.0L324.6 835.9L326.2 833.6L327.8 835.9L329.5 833.6L331.1 836.5L332.7 836.5L334.3 831.7L335.9 835.3L337.5 831.1L339.1 832.2L340.8 835.2L342.4 832.4L344.0 831.6L345.6 833.0L347.2 839.8L348.8 840.5L350.5 840.5L352.1 837.6L353.7 837.4L355.3 839.3L356.9 835.9L358.5 838.7L360.1 836.3L361.8 836.4L363.4 839.4L365.0 836.5L366.6 840.5L368.2 838.7L369.8 838.3L371.4 838.4L373.1 836.4L374.7 840.4L376.3 835.6L377.9 840.4L379.5 838.5L381.1 839.1L382.8 838.9L384.4 838.2L386.0 837.2L387.6 838.3L389.2 840.0L390.8 838.4L392.4 840.5L394.1 840.5L395.7 837.3L397.3 839.9" stroke="#000" stroke-width="1.9" fill="none" stroke-linejoin="miter"/>
<path d="M124.8 843.5V672.4H489.7V842.1H123.39999999999999" stroke="#000" stroke-width="2.8" fill="none"/>
<path d="M127.0 842.1v9.2M154.1 842.1v4.7M170.0 842.1v4.7M181.3 842.1v4.7M190.0 842.1v4.7M197.1 842.1v4.7M203.2 842.1v4.7M208.4 842.1v4.7M213.0 842.1v4.7M217.1 842.1v9.2M244.3 842.1v4.7M260.1 842.1v4.7M271.4 842.1v4.7M280.1 842.1v4.7M287.3 842.1v4.7M293.3 842.1v4.7M298.5 842.1v4.7M303.1 842.1v4.7M307.2 842.1v9.2M334.4 842.1v4.7M350.3 842.1v4.7M361.5 842.1v4.7M370.2 842.1v4.7M377.4 842.1v4.7M383.4 842.1v4.7M388.6 842.1v4.7M393.3 842.1v4.7M397.4 842.1v9.2M424.5 842.1v4.7M440.4 842.1v4.7M451.6 842.1v4.7M460.4 842.1v4.7M467.5 842.1v4.7M473.5 842.1v4.7M478.8 842.1v4.7M483.4 842.1v4.7M487.5 842.1v9.2" stroke="#000" stroke-width="2.5" fill="none"/>
<path d="M124.8 839.6h-8.6M124.8 833.0h-4.4M124.8 826.4h-4.4M124.8 819.8h-4.4M124.8 813.2h-4.4M124.8 806.6h-8.6M124.8 800.0h-4.4M124.8 793.4h-4.4M124.8 786.8h-4.4M124.8 780.2h-4.4M124.8 773.6h-8.6M124.8 767.0h-4.4M124.8 760.4h-4.4M124.8 753.8h-4.4M124.8 747.2h-4.4M124.8 740.6h-8.6M124.8 734.0h-4.4M124.8 727.4h-4.4M124.8 720.8h-4.4M124.8 714.2h-4.4M124.8 707.6h-8.6M124.8 701.0h-4.4M124.8 694.4h-4.4M124.8 687.8h-4.4M124.8 681.2h-4.4M124.8 674.6h-8.6" stroke="#000" stroke-width="2.4" fill="none"/>
<path d="M268 753.5H440M268 740.5v26M440 740.5v26" stroke="#000" stroke-width="2.8" fill="none"/>
<text class="t" x="354" y="741.5" font-size="34.8" text-anchor="middle">16.0%</text>
<text class="t" x="112" y="768.25" font-size="35.6" text-anchor="middle" transform="rotate(-90 112 768.25)">Counts</text>
<text class="t" x="57" y="776.25" font-size="35.6" text-anchor="middle">1</text>
<path d="M201.9 1030.6L203.5 1030.0L205.1 1027.5L206.7 1025.0L208.3 1026.4L209.9 1026.8L211.7 1015.6L213.5 1010.3L215.3 996.5L217.1 992.0L219.0 974.1L220.9 961.6L222.9 947.8L224.5 944.9L226.1 935.2L227.7 933.7L229.3 921.1L230.9 912.6L232.7 910.6L234.5 907.6L236.3 901.2L238.0 884.8L239.9 894.5L241.8 901.2L243.6 910.7L245.5 922.3L247.1 921.9L248.7 926.6L250.3 943.9L251.9 950.7L253.6 957.0L255.2 957.0L256.8 966.9L258.4 973.8L260.0 987.8L261.6 988.8L263.2 993.0L264.9 997.8L266.5 1006.0L268.1 1005.9L269.7 1012.2L271.3 1008.7L272.9 1012.0L274.5 1010.0L276.2 1011.7L277.8 1016.3L279.4 1018.2L281.0 1014.4L282.6 1015.1L284.2 1013.3L285.9 1014.1L287.5 1015.3L289.1 1016.2L290.7 1016.5L292.3 1011.4L293.9 1006.5L295.5 1005.5L297.2 1000.4L298.8 1001.5L300.4 1007.0L302.0 1005.3L303.6 1002.4L305.2 1010.0L306.8 1011.1L308.5 1008.6L310.1 1013.9L311.7 1009.5L313.3 1016.2L314.9 1012.8L316.5 1018.5L318.2 1018.7L319.8 1020.0L321.4 1015.5L323.0 1017.2L324.6 1018.6L326.2 1013.0L327.8 1012.9L329.5 1014.8L331.1 1013.8L332.7 1014.9L334.3 1016.4L335.9 1020.0L337.5 1023.4L339.1 1023.9L340.8 1024.5L342.4 1021.0L344.0 1021.1L345.6 1023.6L347.2 1021.0L348.8 1019.9L350.5 1020.0L352.1 1024.3L353.7 1027.0L355.3 1025.4L356.9 1023.7L358.5 1025.7L360.1 1028.3L361.8 1028.8L363.4 1025.5L365.0 1026.9L366.6 1024.5L368.2 1027.2L369.8 1028.3L371.4 1026.8L373.1 1028.3L374.7 1025.2L376.3 1027.8L377.9 1026.9L379.5 1027.7L381.1 1025.0L382.8 1027.2L384.4 1028.3L386.0 1026.4L387.6 1028.3L389.2 1025.6L390.8 1027.9L392.4 1030.7L394.1 1029.4L395.7 1028.8L397.3 1030.7L398.9 1030.0L400.5 1029.1L402.1 1028.4L403.7 1030.7L405.4 1029.5L407.0 1029.2L408.6 1028.6L410.2 1027.5L411.8 1027.7L413.4 1030.0L415.1 1029.7L416.7 1030.7L418.3 1029.3L419.9 1029.0L421.5 1030.0L423.1 1028.4L424.7 1030.7L426.4 1030.5L428.0 1028.8L429.6 1029.9L431.2 1030.7L432.8 1030.7L434.4 1030.7L436.0 1030.7L437.7 1030.7L439.3 1029.5L440.9 1030.2L442.5 1030.3L444.1 1030.3L445.7 1030.4L447.4 1030.4L449.0 1030.5L450.6 1030.5L452.2 1030.6" stroke="#000" stroke-width="1.9" fill="none" stroke-linejoin="miter"/>
<path d="M124.8 1033.7V862.7H489.7V1032.3H123.39999999999999" stroke="#000" stroke-width="2.8" fill="none"/>
<path d="M127.0 1032.3v9.2M154.1 1032.3v4.7M170.0 1032.3v4.7M181.3 1032.3v4.7M190.0 1032.3v4.7M197.1 1032.3v4.7M203.2 1032.3v4.7M208.4 1032.3v4.7M213.0 1032.3v4.7M217.1 1032.3v9.2M244.3 1032.3v4.7M260.1 1032.3v4.7M271.4 1032.3v4.7M280.1 1032.3v4.7M287.3 1032.3v4.7M293.3 1032.3v4.7M298.5 1032.3v4.7M303.1 1032.3v4.7M307.2 1032.3v9.2M334.4 1032.3v4.7M350.3 1032.3v4.7M361.5 1032.3v4.7M370.2 1032.3v4.7M377.4 1032.3v4.7M383.4 1032.3v4.7M388.6 1032.3v4.7M393.3 1032.3v4.7M397.4 1032.3v9.2M424.5 1032.3v4.7M440.4 1032.3v4.7M451.6 1032.3v4.7M460.4 1032.3v4.7M467.5 1032.3v4.7M473.5 1032.3v4.7M478.8 1032.3v4.7M483.4 1032.3v4.7M487.5 1032.3v9.2" stroke="#000" stroke-width="2.5" fill="none"/>
<path d="M124.8 1029.8h-8.6M124.8 1023.2h-4.4M124.8 1016.6h-4.4M124.8 1010.0h-4.4M124.8 1003.4h-4.4M124.8 996.8h-8.6M124.8 990.2h-4.4M124.8 983.6h-4.4M124.8 977.0h-4.4M124.8 970.4h-4.4M124.8 963.8h-8.6M124.8 957.2h-4.4M124.8 950.6h-4.4M124.8 944.1h-4.4M124.8 937.5h-4.4M124.8 930.9h-8.6M124.8 924.3h-4.4M124.8 917.7h-4.4M124.8 911.1h-4.4M124.8 904.5h-4.4M124.8 897.9h-8.6M124.8 891.3h-4.4M124.8 884.7h-4.4M124.8 878.1h-4.4M124.8 871.5h-4.4M124.8 864.9h-8.6" stroke="#000" stroke-width="2.4" fill="none"/>
<path d="M268 939.5H440M268 926.5v26M440 926.5v26" stroke="#000" stroke-width="2.8" fill="none"/>
<text class="t" x="354" y="928.5" font-size="34.8" text-anchor="middle">25.1%</text>
<text class="t" x="112" y="958.5" font-size="35.6" text-anchor="middle" transform="rotate(-90 112 958.5)">Counts</text>
<text class="t" x="57" y="965.0" font-size="35.6" text-anchor="middle">5</text>
<path d="M203.5 1224.2L205.1 1223.9L206.7 1224.0L208.3 1221.5L209.9 1224.0L211.6 1222.6L213.2 1223.4L214.8 1221.7L216.4 1206.4L218.0 1206.0L219.6 1202.3L221.3 1199.9L222.9 1204.5L224.5 1194.7L226.1 1193.6L227.7 1192.6L229.3 1183.3L230.9 1178.2L232.6 1174.9L234.2 1169.4L235.8 1170.4L237.4 1162.4L239.0 1156.3L240.6 1157.5L242.5 1142.6L244.3 1130.2L246.1 1116.7L248.1 1132.6L250.0 1133.1L251.9 1141.5L253.6 1141.8L255.2 1147.6L256.8 1140.6L258.4 1148.3L260.0 1151.9L261.6 1147.8L263.2 1154.3L264.9 1158.2L266.5 1163.0L268.1 1173.5L269.7 1170.3L271.3 1178.0L272.9 1175.3L274.5 1184.7L276.2 1181.2L277.8 1188.9L279.4 1185.5L281.0 1188.8L282.6 1191.4L284.2 1193.7L285.9 1195.3L287.5 1191.3L289.1 1185.8L290.7 1184.8L292.3 1184.6L293.9 1184.9L295.5 1182.3L297.2 1179.0L298.8 1184.4L300.4 1188.1L302.0 1190.7L303.6 1193.6L305.2 1195.7L306.8 1198.8L308.5 1197.5L310.1 1198.0L311.7 1197.8L313.3 1197.1L314.9 1200.9L316.5 1197.4L318.2 1200.7L319.8 1197.1L321.4 1193.8L323.0 1199.4L324.6 1197.9L326.2 1195.6L327.8 1202.3L329.5 1203.2L331.1 1204.8L332.7 1203.1L334.3 1203.4L335.9 1205.9L337.5 1210.1L339.1 1213.0L340.8 1214.5L342.4 1214.8L344.0 1211.4L345.6 1213.6L347.2 1211.0L348.8 1207.9L350.5 1207.5L352.1 1207.2L353.7 1210.6L355.3 1215.0L356.9 1217.0L358.5 1216.2L360.1 1213.0L361.8 1217.9L363.4 1216.5L365.0 1215.5L366.6 1217.6L368.2 1215.8L369.8 1216.9L371.4 1214.4L373.1 1215.1L374.7 1220.3L376.3 1217.9L377.9 1220.3L379.5 1218.4L381.1 1218.9L382.8 1217.5L384.4 1222.0L386.0 1218.6L387.6 1221.5L389.2 1218.4L390.8 1219.3L392.4 1218.2L394.1 1221.7L395.7 1223.0L397.3 1221.6L398.9 1221.8L400.5 1219.8L402.1 1223.9L403.7 1219.7L405.4 1220.8L407.0 1222.8L408.6 1223.5L410.2 1222.0L411.8 1223.9L413.4 1223.7L415.1 1221.1L416.7 1222.8L418.3 1223.4L419.9 1224.2L421.5 1222.3L423.1 1224.2L424.7 1223.3L426.4 1224.2L428.0 1222.5L429.6 1220.7L431.2 1222.1L432.8 1222.6L434.4 1220.5L436.0 1220.3L437.7 1221.3L439.3 1222.7L440.9 1220.4L442.5 1222.2L444.1 1221.3L445.7 1224.2L447.4 1223.4L449.0 1223.9L450.6 1224.1L452.2 1224.4" stroke="#000" stroke-width="1.9" fill="none" stroke-linejoin="miter"/>
<path d="M124.8 1227.2V1056.1H489.7V1225.8H123.39999999999999" stroke="#000" stroke-width="2.8" fill="none"/>
<path d="M127.0 1225.8v9.2M154.1 1225.8v4.7M170.0 1225.8v4.7M181.3 1225.8v4.7M190.0 1225.8v4.7M197.1 1225.8v4.7M203.2 1225.8v4.7M208.4 1225.8v4.7M213.0 1225.8v4.7M217.1 1225.8v9.2M244.3 1225.8v4.7M260.1 1225.8v4.7M271.4 1225.8v4.7M280.1 1225.8v4.7M287.3 1225.8v4.7M293.3 1225.8v4.7M298.5 1225.8v4.7M303.1 1225.8v4.7M307.2 1225.8v9.2M334.4 1225.8v4.7M350.3 1225.8v4.7M361.5 1225.8v4.7M370.2 1225.8v4.7M377.4 1225.8v4.7M383.4 1225.8v4.7M388.6 1225.8v4.7M393.3 1225.8v4.7M397.4 1225.8v9.2M424.5 1225.8v4.7M440.4 1225.8v4.7M451.6 1225.8v4.7M460.4 1225.8v4.7M467.5 1225.8v4.7M473.5 1225.8v4.7M478.8 1225.8v4.7M483.4 1225.8v4.7M487.5 1225.8v9.2" stroke="#000" stroke-width="2.5" fill="none"/>
<path d="M124.8 1223.3h-8.6M124.8 1216.7h-4.4M124.8 1210.1h-4.4M124.8 1203.5h-4.4M124.8 1196.9h-4.4M124.8 1190.3h-8.6M124.8 1183.7h-4.4M124.8 1177.1h-4.4M124.8 1170.5h-4.4M124.8 1163.9h-4.4M124.8 1157.3h-8.6M124.8 1150.7h-4.4M124.8 1144.1h-4.4M124.8 1137.5h-4.4M124.8 1130.9h-4.4M124.8 1124.3h-8.6M124.8 1117.7h-4.4M124.8 1111.1h-4.4M124.8 1104.5h-4.4M124.8 1097.9h-4.4M124.8 1091.3h-8.6M124.8 1084.7h-4.4M124.8 1078.1h-4.4M124.8 1071.5h-4.4M124.8 1064.9h-4.4M124.8 1058.3h-8.6" stroke="#000" stroke-width="2.4" fill="none"/>
<path d="M268 1131.3H440M268 1118.3v26M440 1118.3v26" stroke="#000" stroke-width="2.8" fill="none"/>
<text class="t" x="354" y="1120.3" font-size="34.8" text-anchor="middle">50.3%</text>
<text class="t" x="112" y="1151.9499999999998" font-size="35.6" text-anchor="middle" transform="rotate(-90 112 1151.9499999999998)">Counts</text>
<text class="t" x="57" y="1158.9499999999998" font-size="35.6" text-anchor="middle">10</text>
<line x1="125" y1="1256.8" x2="246" y2="1256.8" stroke="#000" stroke-width="3.2"/>
<text class="t" x="311" y="1269" font-size="35.6" text-anchor="middle">CTLA4</text>
<line x1="376" y1="1256.8" x2="476" y2="1256.8" stroke="#000" stroke-width="3.2"/>
<path d="M483.3 1256.8l-8.6 -4.3v8.6z" fill="#000"/>
<text class="L" x="561.2" y="435.3">D</text>
<path d="M677.7 450.2V766.7H918.3" stroke="#000" stroke-width="2.8" fill="none"/>
<text class="t" x="667.2" y="779.0" font-size="35.6" text-anchor="end">0</text>
<text class="t" x="667.2" y="726.5" font-size="35.6" text-anchor="end">2</text>
<text class="t" x="667.2" y="674.0" font-size="35.6" text-anchor="end">4</text>
<text class="t" x="667.2" y="621.5" font-size="35.6" text-anchor="end">6</text>
<text class="t" x="667.2" y="569.0" font-size="35.6" text-anchor="end">8</text>
<text class="t" x="667.2" y="516.5" font-size="35.6" text-anchor="end">10</text>
<text class="t" x="667.2" y="464.0" font-size="35.6" text-anchor="end">12</text>
<path d="M666.7 766.7H677.7M666.7 714.2H677.7M666.7 661.7H677.7M666.7 609.2H677.7M666.7 556.7H677.7M666.7 504.2H677.7M666.7 451.7H677.7" stroke="#000" stroke-width="2.8" fill="none"/>
<rect x="696.7" y="702.3" width="81.6" height="64.4" fill="#fff" stroke="#000" stroke-width="2.6"/>
<path d="M737.5 696V707.3M735.6 696h3.8M735.6 707.3h3.8" stroke="#000" stroke-width="2.6" fill="none"/>
<rect x="818.3" y="478.3" width="80.7" height="288.4" fill="#595959" stroke="#000" stroke-width="2.6"/>
<path d="M858.6 465V492.7M856.7 465h3.8M856.7 492.7h3.8" stroke="#000" stroke-width="2.6" fill="none"/>
<text class="t" x="741.0" y="806.5" font-size="35.6" text-anchor="middle">−AQ</text>
<text class="t" x="861.15" y="806.5" font-size="35.6" text-anchor="middle">+AQ</text>
<text class="t" x="858" y="466" font-size="35.6" text-anchor="middle">**</text>
<text class="t" x="622" y="609" font-size="35.6" text-anchor="middle" transform="rotate(-90 622 609)">CTLA4 (x10<tspan font-size="24" dy="-10.5">-2</tspan><tspan dy="10.5">)</tspan></text>
<path d="M1015.3 450.2V766.7H1257" stroke="#000" stroke-width="2.8" fill="none"/>
<text class="t" x="1004.5999999999999" y="779.0" font-size="35.6" text-anchor="end">0</text>
<text class="t" x="1004.5999999999999" y="700.3" font-size="35.6" text-anchor="end">1</text>
<text class="t" x="1004.5999999999999" y="621.5" font-size="35.6" text-anchor="end">2</text>
<text class="t" x="1004.5999999999999" y="542.8" font-size="35.6" text-anchor="end">3</text>
<text class="t" x="1004.5999999999999" y="464.0" font-size="35.6" text-anchor="end">4</text>
<path d="M1004.3 766.7H1015.3M1004.3 688.0H1015.3M1004.3 609.2H1015.3M1004.3 530.5H1015.3M1004.3 451.7H1015.3" stroke="#000" stroke-width="2.8" fill="none"/>
<rect x="1034.7" y="631.8" width="81.7" height="134.9" fill="#fff" stroke="#000" stroke-width="2.6"/>
<path d="M1075.6 627V636M1073.6999999999998 627h3.8M1073.6999999999998 636h3.8" stroke="#000" stroke-width="2.6" fill="none"/>
<rect x="1155" y="476" width="82.8" height="290.7" fill="#595959" stroke="#000" stroke-width="2.6"/>
<path d="M1196.4 466V487M1194.5 466h3.8M1194.5 487h3.8" stroke="#000" stroke-width="2.6" fill="none"/>
<text class="t" x="1079.0500000000002" y="806.5" font-size="35.6" text-anchor="middle">−AQ</text>
<text class="t" x="1198.9" y="806.5" font-size="35.6" text-anchor="middle">+AQ</text>
<text class="t" x="1195.5" y="466" font-size="35.6" text-anchor="middle">**</text>
<text class="t" x="975" y="609" font-size="35.6" text-anchor="middle" transform="rotate(-90 975 609)">GITR (x10<tspan font-size="24" dy="-10.5">-1</tspan><tspan dy="10.5">)</tspan></text>
<path d="M1366.9 450.2V766.7H1608" stroke="#000" stroke-width="2.8" fill="none"/>
<text class="t" x="1355.4" y="779.0" font-size="35.6" text-anchor="end">0</text>
<text class="t" x="1355.4" y="726.5" font-size="35.6" text-anchor="end">2</text>
<text class="t" x="1355.4" y="674.0" font-size="35.6" text-anchor="end">4</text>
<text class="t" x="1355.4" y="621.5" font-size="35.6" text-anchor="end">6</text>
<text class="t" x="1355.4" y="569.0" font-size="35.6" text-anchor="end">8</text>
<text class="t" x="1355.4" y="516.5" font-size="35.6" text-anchor="end">10</text>
<text class="t" x="1355.4" y="464.0" font-size="35.6" text-anchor="end">12</text>
<path d="M1355.9 766.7H1366.9M1355.9 714.2H1366.9M1355.9 661.7H1366.9M1355.9 609.2H1366.9M1355.9 556.7H1366.9M1355.9 504.2H1366.9M1355.9 451.7H1366.9" stroke="#000" stroke-width="2.8" fill="none"/>
<rect x="1387.5" y="711.9" width="80.0" height="54.8" fill="#fff" stroke="#000" stroke-width="2.6"/>
<path d="M1427.5 709.5V714.5M1425.6 709.5h3.8M1425.6 714.5h3.8" stroke="#000" stroke-width="2.6" fill="none"/>
<rect x="1508" y="515.6" width="80.5" height="251.1" fill="#595959" stroke="#000" stroke-width="2.6"/>
<path d="M1548.2 488V543M1546.3 488h3.8M1546.3 543h3.8" stroke="#000" stroke-width="2.6" fill="none"/>
<text class="t" x="1431.0" y="806.5" font-size="35.6" text-anchor="middle">−AQ</text>
<text class="t" x="1550.75" y="806.5" font-size="35.6" text-anchor="middle">+AQ</text>
<text class="t" x="1547.8" y="484" font-size="35.6" text-anchor="middle">*</text>
<text class="t" x="1312" y="609" font-size="35.6" text-anchor="middle" transform="rotate(-90 1312 609)">IL-10 (x10<tspan font-size="24" dy="-10.5">-3</tspan><tspan dy="10.5">)</tspan></text>
<text class="L" x="528" y="876">E</text>
<path d="M635.3 906.0V1222.7H1120" stroke="#000" stroke-width="2.8" fill="none"/>
<text class="t" x="619.5999999999999" y="1235.0" font-size="35.6" text-anchor="end">0</text>
<text class="t" x="619.5999999999999" y="1182.5" font-size="35.6" text-anchor="end">0.2</text>
<text class="t" x="619.5999999999999" y="1129.9" font-size="35.6" text-anchor="end">0.4</text>
<text class="t" x="619.5999999999999" y="1077.4" font-size="35.6" text-anchor="end">0.6</text>
<text class="t" x="619.5999999999999" y="1024.9" font-size="35.6" text-anchor="end">0.8</text>
<text class="t" x="619.5999999999999" y="972.3" font-size="35.6" text-anchor="end">1.0</text>
<text class="t" x="619.5999999999999" y="919.8" font-size="35.6" text-anchor="end">1.2</text>
<path d="M624.3 1222.7H635.3M624.3 1170.2H635.3M624.3 1117.6H635.3M624.3 1065.1H635.3M624.3 1012.6H635.3M624.3 960.0H635.3M624.3 907.5H635.3" stroke="#000" stroke-width="2.8" fill="none"/>
<rect x="655" y="1127.3" width="82.3" height="95.4" fill="#595959" stroke="#000" stroke-width="2.6"/>
<path d="M696.1 1111V1142.5M692.5 1111h7.2M692.5 1142.5h7.2" stroke="#000" stroke-width="2.6" fill="none"/>
<rect x="776" y="1106.4" width="82.3" height="116.3" fill="#595959" stroke="#000" stroke-width="2.6"/>
<path d="M817.1 1104V1108.5M813.5 1104h7.2M813.5 1108.5h7.2" stroke="#000" stroke-width="2.6" fill="none"/>
<rect x="897.3" y="1069.4" width="81.6" height="153.3" fill="#595959" stroke="#000" stroke-width="2.6"/>
<path d="M938.1 1042.5V1096.5M934.5 1042.5h7.2M934.5 1096.5h7.2" stroke="#000" stroke-width="2.6" fill="none"/>
<rect x="1018.3" y="928.7" width="81.5" height="294.0" fill="#595959" stroke="#000" stroke-width="2.6"/>
<path d="M1059.0 923.5V934.5M1055.4 923.5h7.2M1055.4 934.5h7.2" stroke="#000" stroke-width="2.6" fill="none"/>
<text class="t" x="691" y="1261.5" font-size="35.6" text-anchor="middle">0</text>
<text class="t" x="816" y="1261.5" font-size="35.6" text-anchor="middle">1</text>
<text class="t" x="936" y="1261.5" font-size="35.6" text-anchor="middle">5</text>
<text class="t" x="1058" y="1261.5" font-size="35.6" text-anchor="middle">10</text>
<text class="t" x="875" y="1298.5" font-size="35.6" text-anchor="middle">AQ (μM)</text>
<text class="t" x="1056.5" y="919" font-size="35.6" text-anchor="middle">**</text>
<text class="t" x="558" y="1065" font-size="35.6" text-anchor="middle" transform="rotate(-90 558 1065)">IL-10 (ng/ml)</text>
<text class="L" x="1133.3" y="868">F</text>
<path d="M1293.3 1005.3L1295.0 1004.0L1296.7 1002.0L1298.5 1002.7L1300.2 1004.0L1301.9 1001.7L1303.7 1001.7L1305.4 999.3L1307.2 999.8L1308.9 998.9L1310.6 997.2L1312.4 997.0L1314.0 992.9L1315.7 993.3L1317.3 988.2L1319.0 985.0L1320.6 983.1L1322.3 979.4L1323.9 973.8L1325.6 974.1L1327.2 968.8L1329.0 972.7L1330.8 970.1L1332.7 972.1L1334.5 972.0L1336.3 977.8L1338.1 978.2L1339.9 980.8L1341.7 967.7L1343.4 960.7L1345.2 949.1L1346.9 939.2L1348.6 921.9L1350.4 918.5L1352.1 909.4L1353.9 896.7L1355.6 883.0L1357.2 895.5L1358.9 902.5L1360.5 912.6L1362.1 929.5L1363.7 937.8L1365.4 950.0L1367.0 936.3L1368.7 928.9L1370.3 923.8L1372.0 908.6L1373.7 903.5L1375.3 894.0L1377.0 882.8L1378.6 879.9L1380.3 870.1L1381.9 858.1L1383.6 854.0L1385.2 872.7L1386.9 878.4L1388.5 904.4L1390.1 913.3L1391.8 931.1L1393.4 945.8L1395.1 961.3L1396.8 960.9L1398.5 954.0L1400.3 953.6L1402.0 952.3L1403.8 947.7L1405.5 939.0L1407.3 935.3L1409.0 937.0L1410.7 930.4L1412.4 938.7L1414.0 938.0L1415.6 944.0L1417.2 947.1L1418.8 949.3L1420.4 956.6L1422.0 961.1L1423.6 964.6L1425.2 972.8L1426.8 975.4L1428.4 976.8L1430.0 980.3L1431.6 985.3L1433.2 990.1L1435.0 985.8L1436.8 981.4L1438.5 981.2L1440.3 974.5L1442.1 970.8L1443.8 966.9L1445.6 971.6L1447.4 975.4L1449.1 980.8L1450.9 985.5L1452.7 988.5L1454.4 993.9L1456.2 993.0L1458.0 993.9L1459.7 995.2L1461.5 996.0L1463.3 996.6L1465.0 998.2L1466.7 996.9L1468.4 994.2L1470.1 989.9L1471.8 987.2L1473.5 985.9L1475.2 987.6L1476.8 992.3L1478.5 994.0L1480.1 992.7L1481.8 997.2L1483.4 999.1L1485.1 999.7L1486.7 1001.0L1488.4 1001.7L1490.0 1003.0L1491.7 1001.7L1493.4 1002.2L1495.1 1003.7L1496.7 1002.1L1498.4 1005.0L1500.1 1002.7L1501.7 1002.0L1503.4 1004.2L1505.1 1003.0L1506.8 1003.7L1508.4 1004.4L1510.1 1003.2L1511.8 1003.3L1513.5 1005.4L1515.1 1005.4L1516.8 1005.0L1518.5 1005.2L1520.2 1005.3" stroke="#000" stroke-width="1.9" fill="none" stroke-linejoin="miter"/>
<path d="M1220.6 1008.4V837.6H1586.0V1007.0H1219.1999999999998" stroke="#000" stroke-width="2.8" fill="none"/>
<path d="M1222.8 1007.0v9.4M1250.0 1007.0v4.7M1265.9 1007.0v4.7M1277.1 1007.0v4.7M1285.9 1007.0v4.7M1293.0 1007.0v4.7M1299.1 1007.0v4.7M1304.3 1007.0v4.7M1308.9 1007.0v4.7M1313.0 1007.0v9.4M1340.2 1007.0v4.7M1356.1 1007.0v4.7M1367.4 1007.0v4.7M1376.1 1007.0v4.7M1383.3 1007.0v4.7M1389.3 1007.0v4.7M1394.6 1007.0v4.7M1399.2 1007.0v4.7M1403.3 1007.0v9.4M1430.5 1007.0v4.7M1446.4 1007.0v4.7M1457.6 1007.0v4.7M1466.4 1007.0v4.7M1473.5 1007.0v4.7M1479.6 1007.0v4.7M1484.8 1007.0v4.7M1489.4 1007.0v4.7M1493.5 1007.0v9.4M1520.7 1007.0v4.7M1536.6 1007.0v4.7M1547.9 1007.0v4.7M1556.6 1007.0v4.7M1563.8 1007.0v4.7M1569.8 1007.0v4.7M1575.1 1007.0v4.7M1579.7 1007.0v4.7M1583.8 1007.0v9.4" stroke="#000" stroke-width="2.5" fill="none"/>
<path d="M1220.6 1004.5h-8.2M1220.6 997.9h-4.2M1220.6 991.3h-4.2M1220.6 984.7h-4.2M1220.6 978.1h-4.2M1220.6 971.6h-8.2M1220.6 965.0h-4.2M1220.6 958.4h-4.2M1220.6 951.8h-4.2M1220.6 945.2h-4.2M1220.6 938.6h-8.2M1220.6 932.0h-4.2M1220.6 925.4h-4.2M1220.6 918.9h-4.2M1220.6 912.3h-4.2M1220.6 905.7h-8.2M1220.6 899.1h-4.2M1220.6 892.5h-4.2M1220.6 885.9h-4.2M1220.6 879.3h-4.2M1220.6 872.7h-8.2M1220.6 866.2h-4.2M1220.6 859.6h-4.2M1220.6 853.0h-4.2M1220.6 846.4h-4.2M1220.6 839.8h-8.2" stroke="#000" stroke-width="2.4" fill="none"/>
<line x1="1394.2" y1="837.6" x2="1394.2" y2="1007.0" stroke="#000" stroke-width="2.4" stroke-dasharray="2.6 2.6"/>
<text class="t" x="1208.5" y="943.3" font-size="35.6" text-anchor="middle" transform="rotate(-90 1208.5 943.3)">Counts</text>
<text class="t" x="1580" y="876.1" font-size="35.2" text-anchor="end">38.3%</text>
<path d="M1337.8 1189.6L1339.9 1185.4L1342.0 1178.3L1343.7 1178.4L1345.4 1177.6L1347.1 1179.8L1348.8 1178.1L1350.5 1181.6L1352.2 1178.4L1353.9 1182.0L1355.6 1178.2L1357.3 1180.0L1359.0 1180.7L1360.7 1180.5L1362.4 1177.9L1364.1 1173.2L1365.8 1172.7L1367.5 1171.7L1369.2 1166.0L1370.9 1167.4L1372.6 1165.2L1374.3 1164.0L1376.0 1157.6L1377.8 1159.2L1379.6 1156.0L1381.4 1157.5L1383.2 1154.9L1385.1 1148.7L1386.9 1153.0L1388.7 1150.8L1390.4 1140.3L1392.2 1138.3L1393.9 1125.4L1395.7 1124.7L1397.4 1115.0L1399.2 1103.1L1400.9 1103.3L1402.7 1091.7L1404.4 1094.9L1406.2 1101.3L1407.9 1106.2L1409.7 1114.8L1411.4 1118.9L1413.1 1129.3L1414.9 1130.6L1416.6 1134.1L1418.4 1138.9L1420.1 1135.5L1421.8 1122.6L1423.5 1121.1L1425.2 1111.2L1426.9 1101.2L1428.6 1093.0L1430.3 1081.6L1432.0 1080.0L1433.6 1065.1L1435.3 1072.2L1437.0 1085.7L1438.7 1097.2L1440.4 1106.8L1442.1 1110.3L1443.8 1118.0L1445.5 1128.6L1447.2 1134.9L1448.9 1147.2L1450.6 1138.0L1452.4 1131.9L1454.1 1129.1L1455.9 1124.0L1457.6 1114.8L1459.3 1105.3L1461.1 1104.8L1462.8 1095.0L1464.5 1088.1L1466.3 1080.0L1468.0 1078.0L1469.7 1082.2L1471.5 1090.2L1473.2 1101.8L1475.0 1111.0L1476.7 1119.5L1478.5 1128.9L1480.2 1142.6L1482.0 1149.2L1483.8 1157.5L1485.6 1160.7L1487.4 1166.3L1489.3 1169.9L1491.1 1171.3L1492.9 1179.5L1494.7 1180.5L1496.4 1182.8L1498.1 1185.2L1499.8 1184.5L1501.5 1186.6L1503.2 1185.4L1504.9 1187.1L1506.6 1186.0L1508.3 1186.3L1510.0 1188.1L1511.7 1188.0L1513.4 1187.6L1515.1 1189.5L1516.8 1188.0L1518.5 1189.6L1520.2 1188.7L1521.9 1188.4L1523.6 1189.6L1525.3 1189.1L1526.9 1189.1L1528.6 1189.2L1530.3 1189.4L1532.0 1189.5L1533.7 1189.6L1535.4 1189.6L1537.1 1189.8" stroke="#000" stroke-width="1.9" fill="none" stroke-linejoin="miter"/>
<path d="M1220.6 1192.6000000000001V1021.8H1586.0V1191.2H1219.1999999999998" stroke="#000" stroke-width="2.8" fill="none"/>
<path d="M1222.8 1191.2v9.4M1250.0 1191.2v4.7M1265.9 1191.2v4.7M1277.1 1191.2v4.7M1285.9 1191.2v4.7M1293.0 1191.2v4.7M1299.1 1191.2v4.7M1304.3 1191.2v4.7M1308.9 1191.2v4.7M1313.0 1191.2v9.4M1340.2 1191.2v4.7M1356.1 1191.2v4.7M1367.4 1191.2v4.7M1376.1 1191.2v4.7M1383.3 1191.2v4.7M1389.3 1191.2v4.7M1394.6 1191.2v4.7M1399.2 1191.2v4.7M1403.3 1191.2v9.4M1430.5 1191.2v4.7M1446.4 1191.2v4.7M1457.6 1191.2v4.7M1466.4 1191.2v4.7M1473.5 1191.2v4.7M1479.6 1191.2v4.7M1484.8 1191.2v4.7M1489.4 1191.2v4.7M1493.5 1191.2v9.4M1520.7 1191.2v4.7M1536.6 1191.2v4.7M1547.9 1191.2v4.7M1556.6 1191.2v4.7M1563.8 1191.2v4.7M1569.8 1191.2v4.7M1575.1 1191.2v4.7M1579.7 1191.2v4.7M1583.8 1191.2v9.4" stroke="#000" stroke-width="2.5" fill="none"/>
<path d="M1220.6 1188.7h-8.2M1220.6 1182.1h-4.2M1220.6 1175.5h-4.2M1220.6 1168.9h-4.2M1220.6 1162.3h-4.2M1220.6 1155.8h-8.2M1220.6 1149.2h-4.2M1220.6 1142.6h-4.2M1220.6 1136.0h-4.2M1220.6 1129.4h-4.2M1220.6 1122.8h-8.2M1220.6 1116.2h-4.2M1220.6 1109.6h-4.2M1220.6 1103.1h-4.2M1220.6 1096.5h-4.2M1220.6 1089.9h-8.2M1220.6 1083.3h-4.2M1220.6 1076.7h-4.2M1220.6 1070.1h-4.2M1220.6 1063.5h-4.2M1220.6 1056.9h-8.2M1220.6 1050.4h-4.2M1220.6 1043.8h-4.2M1220.6 1037.2h-4.2M1220.6 1030.6h-4.2M1220.6 1024.0h-8.2" stroke="#000" stroke-width="2.4" fill="none"/>
<line x1="1394.2" y1="1021.8" x2="1394.2" y2="1191.2" stroke="#000" stroke-width="2.4" stroke-dasharray="2.6 2.6"/>
<text class="t" x="1208.5" y="1119.5" font-size="35.6" text-anchor="middle" transform="rotate(-90 1208.5 1119.5)">Counts</text>
<text class="t" x="1580" y="1060.3" font-size="35.2" text-anchor="end">90.5%</text>
<path d="M1337.8 1373.9L1339.9 1369.8L1342.0 1365.2L1343.7 1364.6L1345.4 1363.0L1347.1 1362.0L1348.8 1363.4L1350.5 1363.6L1352.2 1364.5L1353.9 1362.2L1355.6 1364.9L1357.3 1360.6L1359.0 1362.9L1360.7 1359.6L1362.4 1360.2L1364.1 1359.5L1365.8 1363.3L1367.5 1361.6L1369.2 1359.7L1370.9 1360.0L1372.6 1359.2L1374.3 1355.0L1376.0 1356.2L1377.7 1352.0L1379.4 1352.9L1381.1 1352.3L1382.8 1348.6L1384.5 1348.9L1386.1 1344.0L1387.8 1334.8L1389.5 1333.8L1391.2 1324.7L1392.9 1320.0L1394.6 1314.3L1396.3 1309.2L1398.0 1309.2L1399.8 1307.4L1401.5 1313.1L1403.3 1310.0L1405.0 1313.2L1406.8 1313.9L1408.5 1319.7L1410.3 1325.5L1412.0 1324.8L1413.7 1319.5L1415.3 1308.6L1417.0 1300.8L1418.6 1295.3L1420.3 1295.0L1422.0 1286.0L1423.6 1281.6L1425.3 1273.5L1426.9 1261.4L1428.6 1253.8L1430.3 1251.7L1432.0 1253.8L1433.7 1264.9L1435.5 1272.7L1437.2 1277.3L1439.0 1291.3L1440.7 1290.4L1442.5 1305.1L1444.2 1305.2L1445.9 1319.7L1447.8 1305.8L1449.6 1293.8L1451.4 1288.3L1453.2 1279.4L1455.0 1266.6L1456.9 1257.8L1458.7 1250.3L1460.5 1242.5L1462.3 1239.7L1464.1 1241.2L1465.9 1235.1L1467.5 1250.1L1469.1 1256.2L1470.7 1269.8L1472.3 1278.5L1473.9 1286.2L1475.5 1298.1L1477.2 1310.3L1478.8 1320.2L1480.4 1332.4L1482.0 1342.7L1483.7 1345.3L1485.4 1345.3L1487.1 1351.3L1488.8 1354.0L1490.5 1353.6L1492.2 1358.9L1493.9 1359.3L1495.6 1360.9L1497.3 1362.5L1499.0 1367.9L1500.6 1368.2L1502.2 1368.5L1503.8 1367.8L1505.4 1366.7L1507.0 1366.7L1508.7 1369.6L1510.3 1370.1L1511.9 1371.7L1513.5 1371.5L1515.1 1370.7L1516.7 1372.8L1518.3 1369.2L1520.0 1373.3L1521.6 1371.9L1523.2 1372.1L1524.8 1373.0L1526.4 1372.3L1528.0 1373.3L1529.7 1373.6L1531.3 1373.9L1532.9 1374.3" stroke="#000" stroke-width="1.9" fill="none" stroke-linejoin="miter"/>
<path d="M1220.6 1376.9V1206.2H1586.0V1375.5H1219.1999999999998" stroke="#000" stroke-width="2.8" fill="none"/>
<path d="M1222.8 1375.5v9.4M1250.0 1375.5v4.7M1265.9 1375.5v4.7M1277.1 1375.5v4.7M1285.9 1375.5v4.7M1293.0 1375.5v4.7M1299.1 1375.5v4.7M1304.3 1375.5v4.7M1308.9 1375.5v4.7M1313.0 1375.5v9.4M1340.2 1375.5v4.7M1356.1 1375.5v4.7M1367.4 1375.5v4.7M1376.1 1375.5v4.7M1383.3 1375.5v4.7M1389.3 1375.5v4.7M1394.6 1375.5v4.7M1399.2 1375.5v4.7M1403.3 1375.5v9.4M1430.5 1375.5v4.7M1446.4 1375.5v4.7M1457.6 1375.5v4.7M1466.4 1375.5v4.7M1473.5 1375.5v4.7M1479.6 1375.5v4.7M1484.8 1375.5v4.7M1489.4 1375.5v4.7M1493.5 1375.5v9.4M1520.7 1375.5v4.7M1536.6 1375.5v4.7M1547.9 1375.5v4.7M1556.6 1375.5v4.7M1563.8 1375.5v4.7M1569.8 1375.5v4.7M1575.1 1375.5v4.7M1579.7 1375.5v4.7M1583.8 1375.5v9.4" stroke="#000" stroke-width="2.5" fill="none"/>
<path d="M1220.6 1373.0h-8.2M1220.6 1366.4h-4.2M1220.6 1359.8h-4.2M1220.6 1353.2h-4.2M1220.6 1346.7h-4.2M1220.6 1340.1h-8.2M1220.6 1333.5h-4.2M1220.6 1326.9h-4.2M1220.6 1320.3h-4.2M1220.6 1313.7h-4.2M1220.6 1307.2h-8.2M1220.6 1300.6h-4.2M1220.6 1294.0h-4.2M1220.6 1287.4h-4.2M1220.6 1280.8h-4.2M1220.6 1274.2h-8.2M1220.6 1267.7h-4.2M1220.6 1261.1h-4.2M1220.6 1254.5h-4.2M1220.6 1247.9h-4.2M1220.6 1241.3h-8.2M1220.6 1234.7h-4.2M1220.6 1228.2h-4.2M1220.6 1221.6h-4.2M1220.6 1215.0h-4.2M1220.6 1208.4h-8.2" stroke="#000" stroke-width="2.4" fill="none"/>
<line x1="1386.6" y1="1206.2" x2="1386.6" y2="1375.5" stroke="#000" stroke-width="2.4" stroke-dasharray="2.6 2.6"/>
<text class="t" x="1208.5" y="1297.85" font-size="35.6" text-anchor="middle" transform="rotate(-90 1208.5 1297.85)">Counts</text>
<text class="t" x="1580" y="1244.7" font-size="35.2" text-anchor="end">95.1%</text>
<line x1="1344" y1="1402.3" x2="1229" y2="1402.3" stroke="#000" stroke-width="3"/>
<path d="M1220.8 1402.3l8.6 -4.3v8.6z" fill="#000"/>
<text class="t" x="1399" y="1414" font-size="35.6" text-anchor="middle">CFSE</text>
<line x1="1458" y1="1402.3" x2="1581" y2="1402.3" stroke="#000" stroke-width="3"/>
<text class="t" x="1230" y="872.5" font-size="35.6">– iTreg</text>
<text class="t" x="1223.5" y="1058.5" font-size="35.6">+ veh-</text>
<text class="t" x="1251" y="1103.5" font-size="35.6">iTreg</text>
<text class="t" x="1223.5" y="1242.5" font-size="35.6">+ AQ-</text>
<text class="t" x="1245" y="1287.5" font-size="35.6">iTreg</text>
</svg>
</body></html>
